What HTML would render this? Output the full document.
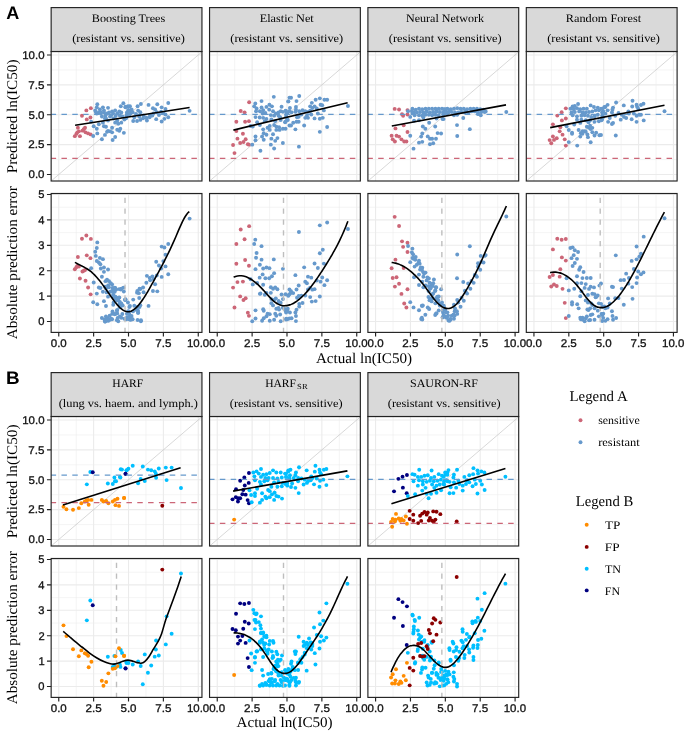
<!DOCTYPE html><html><head><meta charset="utf-8"><style>html,body{margin:0;padding:0;background:#fff;width:685px;height:731px;overflow:hidden}svg{display:block;will-change:transform;text-rendering:geometricPrecision}</style></head><body><svg width="685" height="731" viewBox="0 0 685 731">
<rect width="685" height="731" fill="#fff"/>
<rect x="51.15" y="51.5" width="150.8" height="129.5" fill="#fff"/>
<path d="M51.15 159.56H201.95 M51.15 129.69H201.95 M51.15 99.81H201.95 M51.15 69.94H201.95 M76.2 51.5V181 M111.07 51.5V181 M145.95 51.5V181 M180.82 51.5V181" stroke="#EBEBEB" stroke-width="0.55" fill="none"/>
<path d="M51.15 174.5H201.95 M51.15 144.62H201.95 M51.15 114.75H201.95 M51.15 84.88H201.95 M51.15 55H201.95 M58.76 51.5V181 M93.63 51.5V181 M128.51 51.5V181 M163.38 51.5V181 M198.26 51.5V181" stroke="#EBEBEB" stroke-width="1.1" fill="none"/>
<defs><clipPath id="cA01"><rect x="51.15" y="51.5" width="150.8" height="129.5"/></clipPath></defs>
<g clip-path="url(#cA01)">
<path d="M51.15 181.02L201.95 51.84" stroke="#BEBEBE" stroke-width="0.6" fill="none"/>
<g fill="#CC6677"><circle cx="90.86" cy="108.15" r="1.95"/><circle cx="86.36" cy="110.39" r="1.95"/><circle cx="81.97" cy="115.71" r="1.95"/><circle cx="86.77" cy="119.39" r="1.95"/><circle cx="90.45" cy="117.55" r="1.95"/><circle cx="77.88" cy="127.77" r="1.95"/><circle cx="85.04" cy="127.77" r="1.95"/><circle cx="78.9" cy="131.34" r="1.95"/><circle cx="82.48" cy="130.63" r="1.95"/><circle cx="76.35" cy="133.9" r="1.95"/><circle cx="74.82" cy="136.14" r="1.95"/><circle cx="79.93" cy="136.14" r="1.95"/><circle cx="85.55" cy="132.36" r="1.95"/><circle cx="88.1" cy="133.39" r="1.95"/><circle cx="90.66" cy="134.41" r="1.95"/><circle cx="77.37" cy="132.36" r="1.95"/><circle cx="83.71" cy="129.3" r="1.95"/></g>
<g fill="#6699CC"><circle cx="97.3" cy="104.26" r="1.95"/><circle cx="95.25" cy="110.39" r="1.95"/><circle cx="96.79" cy="107.33" r="1.95"/><circle cx="98.83" cy="112.44" r="1.95"/><circle cx="102.92" cy="107.33" r="1.95"/><circle cx="108.03" cy="107.84" r="1.95"/><circle cx="100.87" cy="113.46" r="1.95"/><circle cx="103.94" cy="112.44" r="1.95"/><circle cx="105.47" cy="115.5" r="1.95"/><circle cx="105.98" cy="118.57" r="1.95"/><circle cx="109.05" cy="112.44" r="1.95"/><circle cx="112.12" cy="111.42" r="1.95"/><circle cx="115.18" cy="110.39" r="1.95"/><circle cx="117.22" cy="113.46" r="1.95"/><circle cx="119.27" cy="111.42" r="1.95"/><circle cx="121.31" cy="112.44" r="1.95"/><circle cx="123.36" cy="103.24" r="1.95"/><circle cx="120.8" cy="106.31" r="1.95"/><circle cx="125.4" cy="107.33" r="1.95"/><circle cx="127.95" cy="106.31" r="1.95"/><circle cx="128.47" cy="110.39" r="1.95"/><circle cx="126.42" cy="115.5" r="1.95"/><circle cx="124.38" cy="119.59" r="1.95"/><circle cx="117.22" cy="120.61" r="1.95"/><circle cx="115.18" cy="122.66" r="1.95"/><circle cx="118.25" cy="123.68" r="1.95"/><circle cx="121.31" cy="122.66" r="1.95"/><circle cx="113.65" cy="118.57" r="1.95"/><circle cx="110.07" cy="116.52" r="1.95"/><circle cx="101.9" cy="116.52" r="1.95"/><circle cx="96.79" cy="113.46" r="1.95"/><circle cx="91.17" cy="121.63" r="1.95"/><circle cx="93.72" cy="126.23" r="1.95"/><circle cx="98.83" cy="124.19" r="1.95"/><circle cx="102.92" cy="122.66" r="1.95"/><circle cx="103.94" cy="126.23" r="1.95"/><circle cx="105.98" cy="126.74" r="1.95"/><circle cx="96.79" cy="128.79" r="1.95"/><circle cx="97.3" cy="133.39" r="1.95"/><circle cx="93.21" cy="135.94" r="1.95"/><circle cx="101.9" cy="139.21" r="1.95"/><circle cx="104.96" cy="134.92" r="1.95"/><circle cx="107.01" cy="131.85" r="1.95"/><circle cx="110.07" cy="131.34" r="1.95"/><circle cx="112.12" cy="127.77" r="1.95"/><circle cx="112.12" cy="132.36" r="1.95"/><circle cx="115.18" cy="136.96" r="1.95"/><circle cx="112.63" cy="140.03" r="1.95"/><circle cx="117.22" cy="129.81" r="1.95"/><circle cx="120.29" cy="128.79" r="1.95"/><circle cx="119.27" cy="130.83" r="1.95"/><circle cx="123.87" cy="132.87" r="1.95"/><circle cx="108.03" cy="130.83" r="1.95"/><circle cx="103.94" cy="110.39" r="1.95"/><circle cx="99.85" cy="109.37" r="1.95"/><circle cx="111.09" cy="115.5" r="1.95"/><circle cx="95.77" cy="111.93" r="1.95"/><circle cx="100.36" cy="111.93" r="1.95"/><circle cx="107.01" cy="113.46" r="1.95"/><circle cx="113.14" cy="113.46" r="1.95"/><circle cx="115.69" cy="116.01" r="1.95"/><circle cx="122.33" cy="116.52" r="1.95"/><circle cx="119.78" cy="115.5" r="1.95"/><circle cx="126.93" cy="112.44" r="1.95"/><circle cx="104.96" cy="118.57" r="1.95"/><circle cx="108.03" cy="120.61" r="1.95"/><circle cx="125.55" cy="106.78" r="1.95"/><circle cx="129.93" cy="106.23" r="1.95"/><circle cx="137.59" cy="106.23" r="1.95"/><circle cx="140.88" cy="104.04" r="1.95"/><circle cx="148.54" cy="104.92" r="1.95"/><circle cx="157.3" cy="104.26" r="1.95"/><circle cx="168.25" cy="102.95" r="1.95"/><circle cx="152.92" cy="108.2" r="1.95"/><circle cx="155.11" cy="109.52" r="1.95"/><circle cx="161.68" cy="107.33" r="1.95"/><circle cx="165.51" cy="108.97" r="1.95"/><circle cx="189.6" cy="110.83" r="1.95"/><circle cx="128.28" cy="110.07" r="1.95"/><circle cx="131.57" cy="109.52" r="1.95"/><circle cx="132.66" cy="112.26" r="1.95"/><circle cx="138.14" cy="110.61" r="1.95"/><circle cx="140.33" cy="112.26" r="1.95"/><circle cx="135.95" cy="113.9" r="1.95"/><circle cx="127.19" cy="113.9" r="1.95"/><circle cx="129.38" cy="114.99" r="1.95"/><circle cx="126.09" cy="118.28" r="1.95"/><circle cx="133.21" cy="121.02" r="1.95"/><circle cx="137.04" cy="121.02" r="1.95"/><circle cx="140.33" cy="119.92" r="1.95"/><circle cx="143.07" cy="118.28" r="1.95"/><circle cx="146.9" cy="120.47" r="1.95"/><circle cx="146.35" cy="117.73" r="1.95"/><circle cx="149.64" cy="117.18" r="1.95"/><circle cx="152.37" cy="115.54" r="1.95"/><circle cx="153.47" cy="113.35" r="1.95"/><circle cx="156.75" cy="112.26" r="1.95"/><circle cx="158.94" cy="114.99" r="1.95"/><circle cx="161.13" cy="111.71" r="1.95"/><circle cx="163.32" cy="113.35" r="1.95"/><circle cx="165.51" cy="114.45" r="1.95"/><circle cx="168.25" cy="117.18" r="1.95"/><circle cx="164.42" cy="118.83" r="1.95"/><circle cx="161.68" cy="121.56" r="1.95"/><circle cx="156.21" cy="119.15" r="1.95"/><circle cx="150.18" cy="115.54" r="1.95"/><circle cx="143.61" cy="115.54" r="1.95"/><circle cx="139.23" cy="116.64" r="1.95"/><circle cx="134.31" cy="117.18" r="1.95"/><circle cx="130.47" cy="112.26" r="1.95"/></g>
<path d="M51.15 114.3H201.95" stroke="#6699CC" stroke-width="1.25" stroke-dasharray="5.5 5.33" stroke-dashoffset="0.53" fill="none"/>
<path d="M51.15 158.35H201.95" stroke="#CC6677" stroke-width="1.25" stroke-dasharray="5.5 5.33" stroke-dashoffset="0.53" fill="none"/>
<path d="M75.1 125.2L189.6 107.5" stroke="#000" stroke-width="1.6" fill="none"/>
</g>
<rect x="51.15" y="51.5" width="150.8" height="129.5" fill="none" stroke="#222" stroke-width="1.15"/>
<rect x="51.15" y="193.5" width="150.8" height="138.9" fill="#fff"/>
<path d="M51.15 308.8H201.95 M51.15 283.4H201.95 M51.15 258H201.95 M51.15 232.6H201.95 M51.15 207.2H201.95 M76.2 193.5V332.4 M111.07 193.5V332.4 M145.95 193.5V332.4 M180.82 193.5V332.4" stroke="#EBEBEB" stroke-width="0.55" fill="none"/>
<path d="M51.15 321.5H201.95 M51.15 296.1H201.95 M51.15 270.7H201.95 M51.15 245.3H201.95 M51.15 219.9H201.95 M51.15 194.5H201.95 M58.76 193.5V332.4 M93.63 193.5V332.4 M128.51 193.5V332.4 M163.38 193.5V332.4 M198.26 193.5V332.4" stroke="#EBEBEB" stroke-width="1.1" fill="none"/>
<defs><clipPath id="cA02"><rect x="51.15" y="193.5" width="150.8" height="138.9"/></clipPath></defs>
<g clip-path="url(#cA02)">
<g fill="#CC6677"><circle cx="90.86" cy="238.91" r="1.95"/><circle cx="86.36" cy="235.5" r="1.95"/><circle cx="81.97" cy="238.8" r="1.95"/><circle cx="86.77" cy="255.36" r="1.95"/><circle cx="90.45" cy="258.15" r="1.95"/><circle cx="77.88" cy="256.98" r="1.95"/><circle cx="85.04" cy="270.01" r="1.95"/><circle cx="78.9" cy="266.45" r="1.95"/><circle cx="82.48" cy="271.44" r="1.95"/><circle cx="76.35" cy="267.22" r="1.95"/><circle cx="74.82" cy="269.21" r="1.95"/><circle cx="79.93" cy="278.51" r="1.95"/><circle cx="85.55" cy="280.71" r="1.95"/><circle cx="88.1" cy="287.53" r="1.95"/><circle cx="90.66" cy="294.36" r="1.95"/><circle cx="77.37" cy="265.83" r="1.95"/><circle cx="83.71" cy="270.85" r="1.95"/></g>
<g fill="#6699CC"><circle cx="97.3" cy="242.38" r="1.95"/><circle cx="95.25" cy="251.69" r="1.95"/><circle cx="96.79" cy="247.96" r="1.95"/><circle cx="98.83" cy="262.55" r="1.95"/><circle cx="102.92" cy="259.13" r="1.95"/><circle cx="108.03" cy="269.52" r="1.95"/><circle cx="100.87" cy="268.44" r="1.95"/><circle cx="103.94" cy="271.85" r="1.95"/><circle cx="105.47" cy="281.16" r="1.95"/><circle cx="105.98" cy="288.6" r="1.95"/><circle cx="109.05" cy="281.15" r="1.95"/><circle cx="112.12" cy="284.56" r="1.95"/><circle cx="115.18" cy="287.97" r="1.95"/><circle cx="117.22" cy="298.21" r="1.95"/><circle cx="119.27" cy="297.59" r="1.95"/><circle cx="121.31" cy="303.48" r="1.95"/><circle cx="123.36" cy="287.65" r="1.95"/><circle cx="120.8" cy="289.52" r="1.95"/><circle cx="125.4" cy="300.06" r="1.95"/><circle cx="127.95" cy="302.54" r="1.95"/><circle cx="128.47" cy="312.16" r="1.95"/><circle cx="126.42" cy="319.3" r="1.95"/><circle cx="124.38" cy="318.74" r="1.95"/><circle cx="117.22" cy="313.41" r="1.95"/><circle cx="115.18" cy="314.03" r="1.95"/><circle cx="118.25" cy="321.21" r="1.95"/><circle cx="121.31" cy="317.8" r="1.95"/><circle cx="113.65" cy="302.56" r="1.95"/><circle cx="110.07" cy="291.7" r="1.95"/><circle cx="101.9" cy="276.82" r="1.95"/><circle cx="96.79" cy="261" r="1.95"/><circle cx="91.17" cy="268.14" r="1.95"/><circle cx="93.72" cy="282.56" r="1.95"/><circle cx="98.83" cy="287.52" r="1.95"/><circle cx="102.92" cy="291.71" r="1.95"/><circle cx="103.94" cy="301.17" r="1.95"/><circle cx="105.98" cy="305.98" r="1.95"/><circle cx="96.79" cy="293.58" r="1.95"/><circle cx="97.3" cy="304.28" r="1.95"/><circle cx="93.21" cy="302.27" r="1.95"/><circle cx="101.9" cy="317.97" r="1.95"/><circle cx="104.96" cy="321.49" r="1.95"/><circle cx="107.01" cy="318.7" r="1.95"/><circle cx="110.07" cy="319.81" r="1.95"/><circle cx="112.12" cy="319.31" r="1.95"/><circle cx="112.12" cy="313.91" r="1.95"/><circle cx="115.18" cy="298.56" r="1.95"/><circle cx="112.63" cy="296.69" r="1.95"/><circle cx="117.22" cy="310.04" r="1.95"/><circle cx="120.29" cy="306.63" r="1.95"/><circle cx="119.27" cy="304.15" r="1.95"/><circle cx="123.87" cy="291.43" r="1.95"/><circle cx="108.03" cy="318.39" r="1.95"/><circle cx="103.94" cy="267.5" r="1.95"/><circle cx="99.85" cy="257.89" r="1.95"/><circle cx="111.09" cy="291.39" r="1.95"/><circle cx="95.77" cy="255.88" r="1.95"/><circle cx="100.36" cy="264.25" r="1.95"/><circle cx="107.01" cy="279.6" r="1.95"/><circle cx="113.14" cy="290.77" r="1.95"/><circle cx="115.69" cy="300.85" r="1.95"/><circle cx="122.33" cy="314.03" r="1.95"/><circle cx="119.78" cy="307.2" r="1.95"/><circle cx="126.93" cy="313.71" r="1.95"/><circle cx="104.96" cy="286.74" r="1.95"/><circle cx="108.03" cy="296.67" r="1.95"/><circle cx="125.55" cy="299.17" r="1.95"/><circle cx="129.93" cy="305.98" r="1.95"/><circle cx="137.59" cy="319.94" r="1.95"/><circle cx="140.88" cy="321.26" r="1.95"/><circle cx="148.54" cy="305.92" r="1.95"/><circle cx="157.3" cy="291.37" r="1.95"/><circle cx="168.25" cy="274.22" r="1.95"/><circle cx="152.92" cy="290.96" r="1.95"/><circle cx="155.11" cy="284.18" r="1.95"/><circle cx="161.68" cy="276.88" r="1.95"/><circle cx="165.51" cy="266.41" r="1.95"/><circle cx="189.6" cy="218.59" r="1.95"/><circle cx="128.28" cy="311.13" r="1.95"/><circle cx="131.57" cy="315.95" r="1.95"/><circle cx="132.66" cy="319.24" r="1.95"/><circle cx="138.14" cy="312.76" r="1.95"/><circle cx="140.33" cy="305.28" r="1.95"/><circle cx="135.95" cy="309.76" r="1.95"/><circle cx="127.19" cy="317.29" r="1.95"/><circle cx="129.38" cy="319.4" r="1.95"/><circle cx="126.09" cy="318.4" r="1.95"/><circle cx="133.21" cy="299.62" r="1.95"/><circle cx="137.04" cy="292.64" r="1.95"/><circle cx="140.33" cy="288.99" r="1.95"/><circle cx="143.07" cy="287.5" r="1.95"/><circle cx="146.9" cy="275.86" r="1.95"/><circle cx="146.35" cy="282.68" r="1.95"/><circle cx="149.64" cy="277.86" r="1.95"/><circle cx="152.37" cy="276.37" r="1.95"/><circle cx="153.47" cy="279.03" r="1.95"/><circle cx="156.75" cy="275.38" r="1.95"/><circle cx="158.94" cy="265.57" r="1.95"/><circle cx="161.13" cy="268.57" r="1.95"/><circle cx="163.32" cy="261.09" r="1.95"/><circle cx="165.51" cy="254.77" r="1.95"/><circle cx="168.25" cy="243.97" r="1.95"/><circle cx="164.42" cy="247.46" r="1.95"/><circle cx="161.68" cy="246.62" r="1.95"/><circle cx="156.21" cy="261.71" r="1.95"/><circle cx="150.18" cy="280.36" r="1.95"/><circle cx="143.61" cy="292.32" r="1.95"/><circle cx="139.23" cy="297.97" r="1.95"/><circle cx="134.31" cy="305.77" r="1.95"/><circle cx="130.47" cy="319.78" r="1.95"/><circle cx="100.47" cy="288.03" r="1.95"/><circle cx="108.14" cy="285.47" r="1.95"/><circle cx="110.69" cy="283.28" r="1.95"/><circle cx="108.87" cy="287.3" r="1.95"/><circle cx="112.52" cy="288.03" r="1.95"/><circle cx="114.71" cy="287.66" r="1.95"/><circle cx="116.17" cy="289.49" r="1.95"/><circle cx="114.71" cy="291.68" r="1.95"/><circle cx="112.52" cy="290.95" r="1.95"/><circle cx="106.68" cy="292.41" r="1.95"/><circle cx="113.25" cy="294.6" r="1.95"/><circle cx="115.44" cy="296.79" r="1.95"/><circle cx="116.9" cy="298.25" r="1.95"/><circle cx="119.09" cy="297.52" r="1.95"/><circle cx="118.36" cy="300.44" r="1.95"/><circle cx="119.82" cy="301.9" r="1.95"/><circle cx="121.28" cy="304.09" r="1.95"/><circle cx="122.74" cy="305.55" r="1.95"/><circle cx="113.25" cy="304.82" r="1.95"/><circle cx="119.09" cy="289.12" r="1.95"/><circle cx="121.28" cy="288.76" r="1.95"/><circle cx="124.93" cy="299.71" r="1.95"/><circle cx="129.31" cy="307.01" r="1.95"/><circle cx="137.34" cy="307.01" r="1.95"/><circle cx="139.53" cy="307.01" r="1.95"/><circle cx="138.07" cy="310.66" r="1.95"/><circle cx="138.07" cy="312.85" r="1.95"/><circle cx="127.85" cy="312.85" r="1.95"/><circle cx="129.31" cy="314.31" r="1.95"/><circle cx="130.77" cy="316.5" r="1.95"/><circle cx="128.58" cy="317.96" r="1.95"/><circle cx="131.5" cy="319.42" r="1.95"/><circle cx="132.96" cy="311.39" r="1.95"/><circle cx="112.52" cy="311.39" r="1.95"/><circle cx="116.9" cy="310.66" r="1.95"/><circle cx="114.71" cy="314.31" r="1.95"/><circle cx="105.95" cy="316.5" r="1.95"/><circle cx="104.49" cy="319.42" r="1.95"/><circle cx="109.6" cy="315.77" r="1.95"/><circle cx="111.06" cy="318.69" r="1.95"/><circle cx="108.14" cy="320.88" r="1.95"/><circle cx="105.22" cy="321.61" r="1.95"/><circle cx="117.63" cy="317.96" r="1.95"/><circle cx="119.82" cy="316.5" r="1.95"/><circle cx="116.9" cy="320.15" r="1.95"/><circle cx="140.99" cy="320.15" r="1.95"/><circle cx="137.34" cy="290.95" r="1.95"/><circle cx="139.53" cy="288.76" r="1.95"/><circle cx="138.8" cy="293.14" r="1.95"/></g>
<path d="M125.02 332.4V193.5" stroke="#BEBEBE" stroke-width="1.4" stroke-dasharray="5.3 5.53" stroke-dashoffset="0.6" fill="none"/>
<path d="M74.9 262.4C75.22 262.58 76.19 263.12 76.84 263.46C77.49 263.8 78.13 264.12 78.78 264.45C79.42 264.77 80.07 265.08 80.72 265.4C81.36 265.73 82.01 266.04 82.66 266.37C83.3 266.71 83.95 267.04 84.59 267.39C85.24 267.75 85.89 268.11 86.53 268.51C87.18 268.9 87.83 269.3 88.47 269.75C89.12 270.19 89.77 270.65 90.41 271.16C91.06 271.67 91.7 272.2 92.35 272.78C93 273.36 93.64 273.98 94.29 274.64C94.94 275.29 95.58 275.98 96.23 276.7C96.88 277.42 97.52 278.17 98.17 278.95C98.81 279.72 99.46 280.53 100.11 281.35C100.75 282.17 101.4 283.02 102.05 283.88C102.69 284.74 103.34 285.62 103.98 286.52C104.63 287.41 105.28 288.32 105.92 289.23C106.57 290.14 107.22 291.07 107.86 291.99C108.51 292.92 109.16 293.86 109.8 294.78C110.45 295.71 111.09 296.64 111.74 297.55C112.39 298.46 113.03 299.36 113.68 300.23C114.33 301.1 114.97 301.96 115.62 302.77C116.26 303.59 116.91 304.38 117.56 305.12C118.2 305.86 118.85 306.56 119.5 307.2C120.14 307.84 120.79 308.44 121.44 308.97C122.08 309.49 122.73 309.96 123.37 310.35C124.02 310.74 124.67 311.07 125.31 311.3C125.96 311.53 126.61 311.69 127.25 311.75C127.9 311.82 128.55 311.79 129.19 311.69C129.84 311.58 130.48 311.4 131.13 311.14C131.78 310.88 132.42 310.54 133.07 310.13C133.72 309.73 134.36 309.25 135.01 308.71C135.65 308.18 136.3 307.57 136.95 306.91C137.59 306.25 138.24 305.53 138.89 304.76C139.53 303.99 140.18 303.16 140.83 302.29C141.47 301.42 142.12 300.5 142.76 299.55C143.41 298.6 144.06 297.6 144.7 296.58C145.35 295.56 146 294.5 146.64 293.42C147.29 292.34 147.94 291.23 148.58 290.1C149.23 288.98 149.87 287.83 150.52 286.68C151.17 285.53 151.81 284.36 152.46 283.19C153.11 282.02 153.75 280.85 154.4 279.67C155.04 278.5 155.69 277.32 156.34 276.14C156.98 274.95 157.63 273.76 158.28 272.57C158.92 271.37 159.57 270.17 160.22 268.95C160.86 267.74 161.51 266.52 162.15 265.28C162.8 264.05 163.45 262.8 164.09 261.54C164.74 260.28 165.39 259.01 166.03 257.72C166.68 256.44 167.32 255.13 167.97 253.81C168.62 252.49 169.26 251.15 169.91 249.79C170.56 248.43 171.2 247.05 171.85 245.65C172.5 244.25 173.14 242.83 173.79 241.38C174.43 239.93 175.08 238.45 175.73 236.96C176.37 235.47 177.02 233.94 177.67 232.44C178.31 230.93 178.96 229.41 179.61 227.94C180.25 226.48 180.9 225.02 181.54 223.64C182.19 222.27 182.84 220.93 183.48 219.7C184.13 218.46 184.78 217.29 185.42 216.26C186.07 215.22 186.71 214.28 187.36 213.49C188.01 212.71 188.98 211.88 189.3 211.56" stroke="#000" stroke-width="1.6" fill="none" stroke-linejoin="round"/>
</g>
<rect x="51.15" y="193.5" width="150.8" height="138.9" fill="none" stroke="#222" stroke-width="1.15"/>
<rect x="51.15" y="7.6" width="150.8" height="43.9" fill="#D9D9D9" stroke="#222" stroke-width="1.15"/>
<text x="91.76" y="22.10" font-family='"Liberation Serif",serif' font-size="11.4" fill="#000" textLength="73.49" lengthAdjust="spacingAndGlyphs">Boosting Trees</text>
<text x="72.18" y="42.00" font-family='"Liberation Serif",serif' font-size="11.4" fill="#000" textLength="112.65" lengthAdjust="spacingAndGlyphs">(resistant vs. sensitive)</text>
<text x="50.75" y="346.80" font-family='"Liberation Sans",sans-serif' font-size="11.2" fill="#111" textLength="16.02" lengthAdjust="spacingAndGlyphs" stroke="#111" stroke-width="0.3">0.0</text>
<text x="85.48" y="346.80" font-family='"Liberation Sans",sans-serif' font-size="11.2" fill="#111" textLength="16.20" lengthAdjust="spacingAndGlyphs" stroke="#111" stroke-width="0.3">2.5</text>
<text x="120.47" y="346.80" font-family='"Liberation Sans",sans-serif' font-size="11.2" fill="#111" textLength="16.05" lengthAdjust="spacingAndGlyphs" stroke="#111" stroke-width="0.3">5.0</text>
<text x="155.23" y="346.80" font-family='"Liberation Sans",sans-serif' font-size="11.2" fill="#111" textLength="16.20" lengthAdjust="spacingAndGlyphs" stroke="#111" stroke-width="0.3">7.5</text>
<text x="186.90" y="346.80" font-family='"Liberation Sans",sans-serif' font-size="11.2" fill="#111" textLength="22.30" lengthAdjust="spacingAndGlyphs" stroke="#111" stroke-width="0.3">10.0</text>
<path d="M58.76 332.4v4.1 M93.63 332.4v4.1 M128.51 332.4v4.1 M163.38 332.4v4.1 M198.26 332.4v4.1" stroke="#222" stroke-width="1.15"/>
<text x="28.52" y="178.35" font-family='"Liberation Sans",sans-serif' font-size="11.2" fill="#111" textLength="16.02" lengthAdjust="spacingAndGlyphs" stroke="#111" stroke-width="0.3">0.0</text>
<text x="28.37" y="148.47" font-family='"Liberation Sans",sans-serif' font-size="11.2" fill="#111" textLength="16.20" lengthAdjust="spacingAndGlyphs" stroke="#111" stroke-width="0.3">2.5</text>
<text x="28.49" y="118.60" font-family='"Liberation Sans",sans-serif' font-size="11.2" fill="#111" textLength="16.05" lengthAdjust="spacingAndGlyphs" stroke="#111" stroke-width="0.3">5.0</text>
<text x="28.37" y="88.72" font-family='"Liberation Sans",sans-serif' font-size="11.2" fill="#111" textLength="16.20" lengthAdjust="spacingAndGlyphs" stroke="#111" stroke-width="0.3">7.5</text>
<text x="22.24" y="58.85" font-family='"Liberation Sans",sans-serif' font-size="11.2" fill="#111" textLength="22.30" lengthAdjust="spacingAndGlyphs" stroke="#111" stroke-width="0.3">10.0</text>
<text x="38.30" y="325.35" font-family='"Liberation Sans",sans-serif' font-size="11.2" fill="#111" textLength="6.23" lengthAdjust="spacingAndGlyphs" stroke="#111" stroke-width="0.3">0</text>
<text x="38.42" y="299.95" font-family='"Liberation Sans",sans-serif' font-size="11.2" fill="#111" textLength="6.23" lengthAdjust="spacingAndGlyphs" stroke="#111" stroke-width="0.3">1</text>
<text x="38.42" y="274.55" font-family='"Liberation Sans",sans-serif' font-size="11.2" fill="#111" textLength="6.23" lengthAdjust="spacingAndGlyphs" stroke="#111" stroke-width="0.3">2</text>
<text x="38.36" y="249.15" font-family='"Liberation Sans",sans-serif' font-size="11.2" fill="#111" textLength="6.23" lengthAdjust="spacingAndGlyphs" stroke="#111" stroke-width="0.3">3</text>
<text x="38.19" y="223.75" font-family='"Liberation Sans",sans-serif' font-size="11.2" fill="#111" textLength="6.23" lengthAdjust="spacingAndGlyphs" stroke="#111" stroke-width="0.3">4</text>
<text x="38.33" y="198.35" font-family='"Liberation Sans",sans-serif' font-size="11.2" fill="#111" textLength="6.23" lengthAdjust="spacingAndGlyphs" stroke="#111" stroke-width="0.3">5</text>
<path d="M46.95 174.5h4.2 M46.95 144.62h4.2 M46.95 114.75h4.2 M46.95 84.88h4.2 M46.95 55h4.2 M46.95 321.5h4.2 M46.95 296.1h4.2 M46.95 270.7h4.2 M46.95 245.3h4.2 M46.95 219.9h4.2 M46.95 194.5h4.2" stroke="#222" stroke-width="1.15"/>
<rect x="209.55" y="51.5" width="150.8" height="129.5" fill="#fff"/>
<path d="M209.55 159.56H360.35 M209.55 129.69H360.35 M209.55 99.81H360.35 M209.55 69.94H360.35 M234.68 51.5V181 M269.55 51.5V181 M304.43 51.5V181 M339.3 51.5V181" stroke="#EBEBEB" stroke-width="0.55" fill="none"/>
<path d="M209.55 174.5H360.35 M209.55 144.62H360.35 M209.55 114.75H360.35 M209.55 84.88H360.35 M209.55 55H360.35 M217.24 51.5V181 M252.12 51.5V181 M286.99 51.5V181 M321.87 51.5V181 M356.74 51.5V181" stroke="#EBEBEB" stroke-width="1.1" fill="none"/>
<defs><clipPath id="cA11"><rect x="209.55" y="51.5" width="150.8" height="129.5"/></clipPath></defs>
<g clip-path="url(#cA11)">
<path d="M209.55 181.09L360.35 51.91" stroke="#BEBEBE" stroke-width="0.6" fill="none"/>
<g fill="#CC6677"><circle cx="249.16" cy="102.3" r="1.95"/><circle cx="240.73" cy="111.06" r="1.95"/><circle cx="244.56" cy="112.37" r="1.95"/><circle cx="236.35" cy="121.68" r="1.95"/><circle cx="245.11" cy="121.68" r="1.95"/><circle cx="248.94" cy="121.13" r="1.95"/><circle cx="236.35" cy="130.99" r="1.95"/><circle cx="242.92" cy="133.72" r="1.95"/><circle cx="237.45" cy="138.65" r="1.95"/><circle cx="245.66" cy="139.2" r="1.95"/><circle cx="240.18" cy="143.03" r="1.95"/><circle cx="243.47" cy="141.94" r="1.95"/><circle cx="247.85" cy="144.13" r="1.95"/><circle cx="233.07" cy="145" r="1.95"/><circle cx="234.49" cy="153.1" r="1.95"/><circle cx="248.94" cy="144.67" r="1.95"/></g>
<g fill="#6699CC"><circle cx="273.8" cy="96.83" r="1.95"/><circle cx="261.53" cy="101.1" r="1.95"/><circle cx="255.29" cy="103.39" r="1.95"/><circle cx="254.2" cy="106.35" r="1.95"/><circle cx="256.61" cy="108.54" r="1.95"/><circle cx="261.53" cy="107.45" r="1.95"/><circle cx="266.46" cy="106.9" r="1.95"/><circle cx="269.42" cy="104.71" r="1.95"/><circle cx="271.94" cy="106.35" r="1.95"/><circle cx="281.57" cy="106.68" r="1.95"/><circle cx="288.36" cy="101.42" r="1.95"/><circle cx="289.46" cy="97.59" r="1.95"/><circle cx="256.06" cy="111.28" r="1.95"/><circle cx="259.89" cy="111.28" r="1.95"/><circle cx="263.18" cy="110.18" r="1.95"/><circle cx="262.63" cy="113.47" r="1.95"/><circle cx="265.37" cy="112.92" r="1.95"/><circle cx="269.2" cy="109.64" r="1.95"/><circle cx="273.03" cy="111.28" r="1.95"/><circle cx="275.77" cy="113.47" r="1.95"/><circle cx="278.51" cy="112.37" r="1.95"/><circle cx="280.7" cy="111.28" r="1.95"/><circle cx="282.89" cy="111.83" r="1.95"/><circle cx="285.62" cy="110.73" r="1.95"/><circle cx="287.27" cy="113.47" r="1.95"/><circle cx="278.51" cy="115.66" r="1.95"/><circle cx="274.13" cy="115.66" r="1.95"/><circle cx="270.84" cy="115.11" r="1.95"/><circle cx="255.51" cy="117.08" r="1.95"/><circle cx="259.67" cy="117.52" r="1.95"/><circle cx="263.18" cy="117.85" r="1.95"/><circle cx="266.46" cy="118.94" r="1.95"/><circle cx="271.39" cy="119.49" r="1.95"/><circle cx="275.22" cy="121.13" r="1.95"/><circle cx="280.7" cy="120.04" r="1.95"/><circle cx="285.08" cy="122.23" r="1.95"/><circle cx="287.81" cy="120.04" r="1.95"/><circle cx="289.46" cy="125.51" r="1.95"/><circle cx="257.15" cy="122.23" r="1.95"/><circle cx="259.89" cy="124.96" r="1.95"/><circle cx="250.59" cy="126.06" r="1.95"/><circle cx="252.78" cy="126.61" r="1.95"/><circle cx="269.75" cy="126.06" r="1.95"/><circle cx="274.13" cy="124.96" r="1.95"/><circle cx="276.32" cy="126.61" r="1.95"/><circle cx="279.05" cy="127.15" r="1.95"/><circle cx="282.89" cy="128.8" r="1.95"/><circle cx="276.32" cy="129.89" r="1.95"/><circle cx="279.6" cy="129.89" r="1.95"/><circle cx="263.18" cy="129.34" r="1.95"/><circle cx="269.75" cy="129.89" r="1.95"/><circle cx="263.72" cy="133.18" r="1.95"/><circle cx="266.46" cy="134.82" r="1.95"/><circle cx="273.03" cy="134.27" r="1.95"/><circle cx="255.51" cy="136.46" r="1.95"/><circle cx="262.08" cy="136.46" r="1.95"/><circle cx="255.51" cy="140.29" r="1.95"/><circle cx="263.72" cy="139.75" r="1.95"/><circle cx="271.39" cy="138.65" r="1.95"/><circle cx="277.41" cy="138.1" r="1.95"/><circle cx="275.22" cy="140.84" r="1.95"/><circle cx="282.89" cy="143.03" r="1.95"/><circle cx="270.84" cy="144.67" r="1.95"/><circle cx="252.23" cy="144.67" r="1.95"/><circle cx="274.13" cy="148.51" r="1.95"/><circle cx="260.44" cy="150.7" r="1.95"/><circle cx="267.56" cy="127.7" r="1.95"/><circle cx="264.82" cy="121.13" r="1.95"/><circle cx="280.15" cy="117.3" r="1.95"/><circle cx="286.17" cy="116.75" r="1.95"/><circle cx="299.23" cy="95.95" r="1.95"/><circle cx="291.02" cy="97.81" r="1.95"/><circle cx="288.28" cy="101.42" r="1.95"/><circle cx="296.5" cy="101.1" r="1.95"/><circle cx="315.66" cy="99.78" r="1.95"/><circle cx="319.82" cy="98.36" r="1.95"/><circle cx="324.42" cy="99.78" r="1.95"/><circle cx="327.15" cy="99.78" r="1.95"/><circle cx="311.83" cy="102.85" r="1.95"/><circle cx="320.59" cy="104.71" r="1.95"/><circle cx="322.23" cy="105.26" r="1.95"/><circle cx="347.96" cy="106.02" r="1.95"/><circle cx="289.93" cy="107.99" r="1.95"/><circle cx="295.95" cy="106.9" r="1.95"/><circle cx="295.95" cy="109.64" r="1.95"/><circle cx="286.09" cy="111.28" r="1.95"/><circle cx="289.38" cy="111.28" r="1.95"/><circle cx="291.57" cy="112.37" r="1.95"/><circle cx="295.4" cy="111.83" r="1.95"/><circle cx="299.23" cy="111.28" r="1.95"/><circle cx="302.52" cy="110.18" r="1.95"/><circle cx="305.26" cy="111.28" r="1.95"/><circle cx="307.99" cy="111.83" r="1.95"/><circle cx="310.18" cy="110.73" r="1.95"/><circle cx="312.37" cy="107.99" r="1.95"/><circle cx="314.56" cy="106.35" r="1.95"/><circle cx="316.75" cy="108.54" r="1.95"/><circle cx="323.87" cy="110.4" r="1.95"/><circle cx="317.85" cy="113.47" r="1.95"/><circle cx="311.28" cy="114.56" r="1.95"/><circle cx="306.9" cy="115.66" r="1.95"/><circle cx="305.26" cy="117.85" r="1.95"/><circle cx="297.04" cy="117.3" r="1.95"/><circle cx="298.69" cy="116.75" r="1.95"/><circle cx="286.09" cy="114.56" r="1.95"/><circle cx="287.19" cy="119.49" r="1.95"/><circle cx="285.55" cy="121.68" r="1.95"/><circle cx="293.21" cy="122.78" r="1.95"/><circle cx="296.5" cy="121.68" r="1.95"/><circle cx="298.69" cy="121.68" r="1.95"/><circle cx="291.02" cy="125.51" r="1.95"/><circle cx="304.16" cy="125.51" r="1.95"/><circle cx="295.4" cy="129.34" r="1.95"/><circle cx="314.56" cy="118.4" r="1.95"/><circle cx="319.82" cy="118.72" r="1.95"/><circle cx="322.78" cy="117.85" r="1.95"/><circle cx="327.15" cy="126.94" r="1.95"/><circle cx="319.82" cy="131.86" r="1.95"/><circle cx="298.91" cy="146.64" r="1.95"/><circle cx="310.18" cy="106.35" r="1.95"/><circle cx="301.42" cy="114.56" r="1.95"/><circle cx="307.99" cy="117.85" r="1.95"/><circle cx="285.55" cy="128.8" r="1.95"/></g>
<path d="M209.55 114.3H360.35" stroke="#6699CC" stroke-width="1.25" stroke-dasharray="5.5 5.33" stroke-dashoffset="0.53" fill="none"/>
<path d="M209.55 158.35H360.35" stroke="#CC6677" stroke-width="1.25" stroke-dasharray="5.5 5.33" stroke-dashoffset="0.53" fill="none"/>
<path d="M233.4 130.1L347.6 102.8" stroke="#000" stroke-width="1.6" fill="none"/>
</g>
<rect x="209.55" y="51.5" width="150.8" height="129.5" fill="none" stroke="#222" stroke-width="1.15"/>
<rect x="209.55" y="193.5" width="150.8" height="138.9" fill="#fff"/>
<path d="M209.55 308.8H360.35 M209.55 283.4H360.35 M209.55 258H360.35 M209.55 232.6H360.35 M209.55 207.2H360.35 M234.68 193.5V332.4 M269.55 193.5V332.4 M304.43 193.5V332.4 M339.3 193.5V332.4" stroke="#EBEBEB" stroke-width="0.55" fill="none"/>
<path d="M209.55 321.5H360.35 M209.55 296.1H360.35 M209.55 270.7H360.35 M209.55 245.3H360.35 M209.55 219.9H360.35 M209.55 194.5H360.35 M217.24 193.5V332.4 M252.12 193.5V332.4 M286.99 193.5V332.4 M321.87 193.5V332.4 M356.74 193.5V332.4" stroke="#EBEBEB" stroke-width="1.1" fill="none"/>
<defs><clipPath id="cA12"><rect x="209.55" y="193.5" width="150.8" height="138.9"/></clipPath></defs>
<g clip-path="url(#cA12)">
<g fill="#CC6677"><circle cx="249.16" cy="226.16" r="1.95"/><circle cx="240.73" cy="229.43" r="1.95"/><circle cx="244.56" cy="239.2" r="1.95"/><circle cx="236.35" cy="244.03" r="1.95"/><circle cx="245.11" cy="259.98" r="1.95"/><circle cx="248.94" cy="265.79" r="1.95"/><circle cx="236.35" cy="263.81" r="1.95"/><circle cx="242.92" cy="281.59" r="1.95"/><circle cx="237.45" cy="282.09" r="1.95"/><circle cx="245.66" cy="298.21" r="1.95"/><circle cx="240.18" cy="296.39" r="1.95"/><circle cx="243.47" cy="300.04" r="1.95"/><circle cx="247.85" cy="312.67" r="1.95"/><circle cx="233.07" cy="287.62" r="1.95"/><circle cx="234.49" cy="307.43" r="1.95"/><circle cx="248.94" cy="315.83" r="1.95"/></g>
<g fill="#6699CC"><circle cx="273.8" cy="259.38" r="1.95"/><circle cx="261.53" cy="246.13" r="1.95"/><circle cx="255.29" cy="239.65" r="1.95"/><circle cx="254.2" cy="243.94" r="1.95"/><circle cx="256.61" cy="252.98" r="1.95"/><circle cx="261.53" cy="259.63" r="1.95"/><circle cx="266.46" cy="267.43" r="1.95"/><circle cx="269.42" cy="268.16" r="1.95"/><circle cx="271.94" cy="276.24" r="1.95"/><circle cx="281.57" cy="294.48" r="1.95"/><circle cx="288.36" cy="295.67" r="1.95"/><circle cx="289.46" cy="289.52" r="1.95"/><circle cx="256.06" cy="257.8" r="1.95"/><circle cx="259.89" cy="264.78" r="1.95"/><circle cx="263.18" cy="268.44" r="1.95"/><circle cx="262.63" cy="274.42" r="1.95"/><circle cx="265.37" cy="278.24" r="1.95"/><circle cx="269.2" cy="278.24" r="1.95"/><circle cx="273.03" cy="288.71" r="1.95"/><circle cx="275.77" cy="298.34" r="1.95"/><circle cx="278.51" cy="301" r="1.95"/><circle cx="280.7" cy="302.66" r="1.95"/><circle cx="282.89" cy="307.81" r="1.95"/><circle cx="285.62" cy="310.47" r="1.95"/><circle cx="287.27" cy="319.28" r="1.95"/><circle cx="278.51" cy="307.98" r="1.95"/><circle cx="274.13" cy="300.01" r="1.95"/><circle cx="270.84" cy="292.86" r="1.95"/><circle cx="255.51" cy="269.14" r="1.95"/><circle cx="259.67" cy="277.65" r="1.95"/><circle cx="263.18" cy="284.73" r="1.95"/><circle cx="266.46" cy="293.03" r="1.95"/><circle cx="271.39" cy="303.17" r="1.95"/><circle cx="275.22" cy="313.64" r="1.95"/><circle cx="280.7" cy="321.28" r="1.95"/><circle cx="285.08" cy="309.09" r="1.95"/><circle cx="287.81" cy="308.76" r="1.95"/><circle cx="289.46" cy="294.14" r="1.95"/><circle cx="257.15" cy="283.07" r="1.95"/><circle cx="259.89" cy="293.87" r="1.95"/><circle cx="250.59" cy="279.25" r="1.95"/><circle cx="252.78" cy="284.4" r="1.95"/><circle cx="269.75" cy="314.14" r="1.95"/><circle cx="274.13" cy="319.79" r="1.95"/><circle cx="276.32" cy="315.73" r="1.95"/><circle cx="279.05" cy="309.58" r="1.95"/><circle cx="282.89" cy="299.12" r="1.95"/><circle cx="276.32" cy="308.75" r="1.95"/><circle cx="279.6" cy="302.77" r="1.95"/><circle cx="263.18" cy="309.16" r="1.95"/><circle cx="269.75" cy="320.71" r="1.95"/><circle cx="263.72" cy="318.31" r="1.95"/><circle cx="266.46" cy="316.22" r="1.95"/><circle cx="273.03" cy="305.42" r="1.95"/><circle cx="255.51" cy="310.33" r="1.95"/><circle cx="262.08" cy="320.7" r="1.95"/><circle cx="255.51" cy="318.48" r="1.95"/><circle cx="263.72" cy="310.73" r="1.95"/><circle cx="271.39" cy="299.1" r="1.95"/><circle cx="277.41" cy="289.3" r="1.95"/><circle cx="275.22" cy="287.47" r="1.95"/><circle cx="282.89" cy="268.86" r="1.95"/><circle cx="270.84" cy="287.3" r="1.95"/><circle cx="252.23" cy="321.19" r="1.95"/><circle cx="274.13" cy="273.17" r="1.95"/><circle cx="260.44" cy="293.44" r="1.95"/><circle cx="267.56" cy="313.65" r="1.95"/><circle cx="264.82" cy="294.7" r="1.95"/><circle cx="280.15" cy="314.46" r="1.95"/><circle cx="286.17" cy="318.73" r="1.95"/><circle cx="299.23" cy="303.83" r="1.95"/><circle cx="291.02" cy="292.84" r="1.95"/><circle cx="288.28" cy="295.53" r="1.95"/><circle cx="296.5" cy="309.79" r="1.95"/><circle cx="315.66" cy="301.12" r="1.95"/><circle cx="319.82" cy="296.57" r="1.95"/><circle cx="324.42" cy="285.17" r="1.95"/><circle cx="327.15" cy="280.18" r="1.95"/><circle cx="311.83" cy="301.58" r="1.95"/><circle cx="320.59" cy="281.67" r="1.95"/><circle cx="322.23" cy="277.52" r="1.95"/><circle cx="347.96" cy="229.04" r="1.95"/><circle cx="289.93" cy="312.49" r="1.95"/><circle cx="295.95" cy="321.12" r="1.95"/><circle cx="295.95" cy="316.06" r="1.95"/><circle cx="286.09" cy="312.49" r="1.95"/><circle cx="289.38" cy="318.47" r="1.95"/><circle cx="291.57" cy="318.21" r="1.95"/><circle cx="295.4" cy="312.4" r="1.95"/><circle cx="299.23" cy="306.59" r="1.95"/><circle cx="302.52" cy="302.93" r="1.95"/><circle cx="305.26" cy="295.62" r="1.95"/><circle cx="307.99" cy="289.47" r="1.95"/><circle cx="310.18" cy="287.81" r="1.95"/><circle cx="312.37" cy="289.64" r="1.95"/><circle cx="314.56" cy="289.15" r="1.95"/><circle cx="316.75" cy="280.51" r="1.95"/><circle cx="323.87" cy="263.59" r="1.95"/><circle cx="317.85" cy="268.04" r="1.95"/><circle cx="311.28" cy="277.67" r="1.95"/><circle cx="306.9" cy="283.32" r="1.95"/><circle cx="305.26" cy="281.66" r="1.95"/><circle cx="297.04" cy="297.77" r="1.95"/><circle cx="298.69" cy="295.95" r="1.95"/><circle cx="286.09" cy="319.47" r="1.95"/><circle cx="287.19" cy="311.06" r="1.95"/><circle cx="285.55" cy="309.4" r="1.95"/><circle cx="293.21" cy="293.11" r="1.95"/><circle cx="296.5" cy="289.46" r="1.95"/><circle cx="298.69" cy="285.47" r="1.95"/><circle cx="291.02" cy="291.28" r="1.95"/><circle cx="304.16" cy="267.36" r="1.95"/><circle cx="295.4" cy="275.16" r="1.95"/><circle cx="314.56" cy="263.55" r="1.95"/><circle cx="319.82" cy="253.28" r="1.95"/><circle cx="322.78" cy="249.76" r="1.95"/><circle cx="327.15" cy="222.47" r="1.95"/><circle cx="319.82" cy="225.35" r="1.95"/><circle cx="298.91" cy="232.01" r="1.95"/><circle cx="310.18" cy="297.12" r="1.95"/><circle cx="301.42" cy="295.62" r="1.95"/><circle cx="307.99" cy="276.67" r="1.95"/><circle cx="285.55" cy="294.27" r="1.95"/></g>
<path d="M283.5 332.4V193.5" stroke="#BEBEBE" stroke-width="1.4" stroke-dasharray="5.3 5.53" stroke-dashoffset="0.6" fill="none"/>
<path d="M233.6 277.08C233.92 276.97 234.89 276.58 235.54 276.4C236.18 276.21 236.83 276.06 237.47 275.96C238.12 275.85 238.77 275.79 239.41 275.76C240.06 275.74 240.7 275.75 241.35 275.8C241.99 275.86 242.64 275.95 243.29 276.07C243.93 276.2 244.58 276.36 245.22 276.56C245.87 276.76 246.52 277 247.16 277.27C247.81 277.54 248.45 277.84 249.1 278.18C249.74 278.51 250.39 278.88 251.04 279.28C251.68 279.68 252.33 280.12 252.97 280.58C253.62 281.04 254.26 281.53 254.91 282.04C255.56 282.56 256.2 283.1 256.85 283.67C257.49 284.23 258.14 284.83 258.78 285.44C259.43 286.05 260.08 286.69 260.72 287.35C261.37 288.01 262.01 288.69 262.66 289.38C263.31 290.07 263.95 290.79 264.6 291.51C265.24 292.23 265.89 292.97 266.53 293.69C267.18 294.41 267.83 295.14 268.47 295.85C269.12 296.56 269.76 297.26 270.41 297.92C271.05 298.59 271.7 299.24 272.35 299.85C272.99 300.46 273.64 301.04 274.28 301.56C274.93 302.09 275.57 302.57 276.22 303C276.87 303.42 277.51 303.8 278.16 304.12C278.8 304.44 279.45 304.71 280.09 304.93C280.74 305.15 281.39 305.32 282.03 305.45C282.68 305.58 283.32 305.65 283.97 305.69C284.62 305.73 285.26 305.71 285.91 305.66C286.55 305.61 287.2 305.52 287.84 305.39C288.49 305.25 289.14 305.08 289.78 304.87C290.43 304.66 291.07 304.41 291.72 304.13C292.36 303.85 293.01 303.53 293.66 303.18C294.3 302.82 294.95 302.44 295.59 302.02C296.24 301.6 296.88 301.15 297.53 300.67C298.18 300.19 298.82 299.68 299.47 299.14C300.11 298.6 300.76 298.03 301.41 297.43C302.05 296.83 302.7 296.21 303.34 295.56C303.99 294.91 304.63 294.23 305.28 293.53C305.93 292.83 306.57 292.11 307.22 291.36C307.86 290.62 308.51 289.85 309.15 289.06C309.8 288.27 310.45 287.45 311.09 286.62C311.74 285.79 312.38 284.94 313.03 284.07C313.67 283.2 314.32 282.32 314.97 281.41C315.61 280.51 316.26 279.59 316.9 278.66C317.55 277.73 318.19 276.78 318.84 275.82C319.49 274.86 320.13 273.88 320.78 272.9C321.42 271.91 322.07 270.91 322.72 269.91C323.36 268.9 324.01 267.88 324.65 266.86C325.3 265.84 325.94 264.8 326.59 263.76C327.24 262.72 327.88 261.67 328.53 260.61C329.17 259.55 329.82 258.48 330.46 257.39C331.11 256.3 331.76 255.19 332.4 254.07C333.05 252.94 333.69 251.8 334.34 250.63C334.98 249.46 335.63 248.27 336.28 247.05C336.92 245.83 337.57 244.58 338.21 243.3C338.86 242.02 339.51 240.71 340.15 239.36C340.8 238.02 341.44 236.64 342.09 235.21C342.73 233.79 343.38 232.33 344.03 230.83C344.67 229.33 345.32 227.78 345.96 226.19C346.61 224.59 347.58 222.08 347.9 221.26" stroke="#000" stroke-width="1.6" fill="none" stroke-linejoin="round"/>
</g>
<rect x="209.55" y="193.5" width="150.8" height="138.9" fill="none" stroke="#222" stroke-width="1.15"/>
<rect x="209.55" y="7.6" width="150.8" height="43.9" fill="#D9D9D9" stroke="#222" stroke-width="1.15"/>
<text x="259.66" y="22.10" font-family='"Liberation Serif",serif' font-size="11.4" fill="#000" textLength="54.10" lengthAdjust="spacingAndGlyphs">Elastic Net</text>
<text x="230.38" y="42.00" font-family='"Liberation Serif",serif' font-size="11.4" fill="#000" textLength="112.85" lengthAdjust="spacingAndGlyphs">(resistant vs. sensitive)</text>
<text x="209.23" y="346.80" font-family='"Liberation Sans",sans-serif' font-size="11.2" fill="#111" textLength="16.02" lengthAdjust="spacingAndGlyphs" stroke="#111" stroke-width="0.3">0.0</text>
<text x="243.96" y="346.80" font-family='"Liberation Sans",sans-serif' font-size="11.2" fill="#111" textLength="16.20" lengthAdjust="spacingAndGlyphs" stroke="#111" stroke-width="0.3">2.5</text>
<text x="278.95" y="346.80" font-family='"Liberation Sans",sans-serif' font-size="11.2" fill="#111" textLength="16.05" lengthAdjust="spacingAndGlyphs" stroke="#111" stroke-width="0.3">5.0</text>
<text x="313.71" y="346.80" font-family='"Liberation Sans",sans-serif' font-size="11.2" fill="#111" textLength="16.20" lengthAdjust="spacingAndGlyphs" stroke="#111" stroke-width="0.3">7.5</text>
<text x="345.38" y="346.80" font-family='"Liberation Sans",sans-serif' font-size="11.2" fill="#111" textLength="22.30" lengthAdjust="spacingAndGlyphs" stroke="#111" stroke-width="0.3">10.0</text>
<path d="M217.24 332.4v4.1 M252.12 332.4v4.1 M286.99 332.4v4.1 M321.87 332.4v4.1 M356.74 332.4v4.1" stroke="#222" stroke-width="1.15"/>
<rect x="367.9" y="51.5" width="150.8" height="129.5" fill="#fff"/>
<path d="M367.9 159.56H518.7 M367.9 129.69H518.7 M367.9 99.81H518.7 M367.9 69.94H518.7 M393.03 51.5V181 M427.9 51.5V181 M462.78 51.5V181 M497.65 51.5V181" stroke="#EBEBEB" stroke-width="0.55" fill="none"/>
<path d="M367.9 174.5H518.7 M367.9 144.62H518.7 M367.9 114.75H518.7 M367.9 84.88H518.7 M367.9 55H518.7 M375.59 51.5V181 M410.46 51.5V181 M445.34 51.5V181 M480.21 51.5V181 M515.09 51.5V181" stroke="#EBEBEB" stroke-width="1.1" fill="none"/>
<defs><clipPath id="cA21"><rect x="367.9" y="51.5" width="150.8" height="129.5"/></clipPath></defs>
<g clip-path="url(#cA21)">
<path d="M367.9 181.09L518.7 51.91" stroke="#BEBEBE" stroke-width="0.6" fill="none"/>
<g fill="#CC6677"><circle cx="394.68" cy="108.91" r="1.95"/><circle cx="399.06" cy="109.45" r="1.95"/><circle cx="407.49" cy="110.11" r="1.95"/><circle cx="402.02" cy="114.16" r="1.95"/><circle cx="403.11" cy="115.8" r="1.95"/><circle cx="407.49" cy="114.49" r="1.95"/><circle cx="403.66" cy="125.33" r="1.95"/><circle cx="395.45" cy="128.4" r="1.95"/><circle cx="407.49" cy="132.01" r="1.95"/><circle cx="391.61" cy="135.73" r="1.95"/><circle cx="396.54" cy="135.73" r="1.95"/><circle cx="399.06" cy="136.61" r="1.95"/><circle cx="392.71" cy="139.34" r="1.95"/><circle cx="394.9" cy="141.53" r="1.95"/><circle cx="401.47" cy="139.34" r="1.95"/><circle cx="404.21" cy="141.53" r="1.95"/><circle cx="406.4" cy="141.53" r="1.95"/></g>
<g fill="#6699CC"><circle cx="408.04" cy="111.2" r="1.95"/><circle cx="412.42" cy="108.69" r="1.95"/><circle cx="415.7" cy="109.78" r="1.95"/><circle cx="418.99" cy="108.69" r="1.95"/><circle cx="422.27" cy="109.23" r="1.95"/><circle cx="425.56" cy="108.69" r="1.95"/><circle cx="428.84" cy="108.69" r="1.95"/><circle cx="432.13" cy="108.69" r="1.95"/><circle cx="435.41" cy="108.69" r="1.95"/><circle cx="438.7" cy="108.69" r="1.95"/><circle cx="441.98" cy="108.69" r="1.95"/><circle cx="445.27" cy="109.23" r="1.95"/><circle cx="413.51" cy="112.52" r="1.95"/><circle cx="416.8" cy="112.52" r="1.95"/><circle cx="420.08" cy="111.97" r="1.95"/><circle cx="423.37" cy="112.52" r="1.95"/><circle cx="426.65" cy="111.42" r="1.95"/><circle cx="429.94" cy="112.52" r="1.95"/><circle cx="433.22" cy="111.97" r="1.95"/><circle cx="436.51" cy="111.42" r="1.95"/><circle cx="439.79" cy="111.97" r="1.95"/><circle cx="443.08" cy="112.52" r="1.95"/><circle cx="446.36" cy="111.97" r="1.95"/><circle cx="414.61" cy="115.26" r="1.95"/><circle cx="418.99" cy="115.26" r="1.95"/><circle cx="422.27" cy="115.8" r="1.95"/><circle cx="425.56" cy="114.71" r="1.95"/><circle cx="428.84" cy="114.71" r="1.95"/><circle cx="432.13" cy="115.26" r="1.95"/><circle cx="435.41" cy="114.71" r="1.95"/><circle cx="438.7" cy="115.26" r="1.95"/><circle cx="443.08" cy="114.71" r="1.95"/><circle cx="410.23" cy="116.9" r="1.95"/><circle cx="423.37" cy="117.45" r="1.95"/><circle cx="436.51" cy="118.54" r="1.95"/><circle cx="442.53" cy="119.09" r="1.95"/><circle cx="414.06" cy="120.73" r="1.95"/><circle cx="418.99" cy="120.18" r="1.95"/><circle cx="429.17" cy="122.7" r="1.95"/><circle cx="422.82" cy="126.53" r="1.95"/><circle cx="425.34" cy="128.72" r="1.95"/><circle cx="435.19" cy="126.53" r="1.95"/><circle cx="410.23" cy="135.73" r="1.95"/><circle cx="422.27" cy="133.54" r="1.95"/><circle cx="421.18" cy="136.61" r="1.95"/><circle cx="427.75" cy="136.39" r="1.95"/><circle cx="429.94" cy="138.8" r="1.95"/><circle cx="432.13" cy="138.8" r="1.95"/><circle cx="435.96" cy="138.8" r="1.95"/><circle cx="437.6" cy="133.1" r="1.95"/><circle cx="441.1" cy="133.54" r="1.95"/><circle cx="418.99" cy="142.63" r="1.95"/><circle cx="422.27" cy="141.86" r="1.95"/><circle cx="429.94" cy="144.27" r="1.95"/><circle cx="433.22" cy="143.18" r="1.95"/><circle cx="413.51" cy="148.65" r="1.95"/><circle cx="412.42" cy="113.07" r="1.95"/><circle cx="411.87" cy="110.88" r="1.95"/><circle cx="444.09" cy="109.23" r="1.95"/><circle cx="447.38" cy="108.69" r="1.95"/><circle cx="450.66" cy="109.23" r="1.95"/><circle cx="453.95" cy="108.69" r="1.95"/><circle cx="457.23" cy="108.14" r="1.95"/><circle cx="460.52" cy="108.69" r="1.95"/><circle cx="463.8" cy="108.69" r="1.95"/><circle cx="467.09" cy="109.23" r="1.95"/><circle cx="470.37" cy="108.69" r="1.95"/><circle cx="473.66" cy="108.69" r="1.95"/><circle cx="476.94" cy="108.69" r="1.95"/><circle cx="480.23" cy="109.23" r="1.95"/><circle cx="483.51" cy="109.78" r="1.95"/><circle cx="485.7" cy="111.42" r="1.95"/><circle cx="445.19" cy="112.52" r="1.95"/><circle cx="448.47" cy="112.52" r="1.95"/><circle cx="451.76" cy="111.97" r="1.95"/><circle cx="455.04" cy="112.52" r="1.95"/><circle cx="458.33" cy="112.52" r="1.95"/><circle cx="461.61" cy="111.97" r="1.95"/><circle cx="464.9" cy="112.52" r="1.95"/><circle cx="468.18" cy="113.07" r="1.95"/><circle cx="471.47" cy="111.42" r="1.95"/><circle cx="474.75" cy="111.42" r="1.95"/><circle cx="478.04" cy="112.52" r="1.95"/><circle cx="481.32" cy="111.97" r="1.95"/><circle cx="484.61" cy="111.97" r="1.95"/><circle cx="453.95" cy="115.26" r="1.95"/><circle cx="457.23" cy="114.71" r="1.95"/><circle cx="478.04" cy="114.16" r="1.95"/><circle cx="480.78" cy="115.26" r="1.95"/><circle cx="506.29" cy="111.97" r="1.95"/><circle cx="443.55" cy="119.09" r="1.95"/><circle cx="463.26" cy="117.99" r="1.95"/><circle cx="457.02" cy="125.11" r="1.95"/><circle cx="469.83" cy="129.16" r="1.95"/><circle cx="457.23" cy="136.06" r="1.95"/><circle cx="449.57" cy="111.42" r="1.95"/><circle cx="465.99" cy="110.88" r="1.95"/><circle cx="475.85" cy="110.33" r="1.95"/></g>
<path d="M367.9 114.3H518.7" stroke="#6699CC" stroke-width="1.25" stroke-dasharray="5.5 5.33" stroke-dashoffset="0.53" fill="none"/>
<path d="M367.9 158.35H518.7" stroke="#CC6677" stroke-width="1.25" stroke-dasharray="5.5 5.33" stroke-dashoffset="0.53" fill="none"/>
<path d="M391.8 126L506 104.9" stroke="#000" stroke-width="1.6" fill="none"/>
</g>
<rect x="367.9" y="51.5" width="150.8" height="129.5" fill="none" stroke="#222" stroke-width="1.15"/>
<rect x="367.9" y="193.5" width="150.8" height="138.9" fill="#fff"/>
<path d="M367.9 308.8H518.7 M367.9 283.4H518.7 M367.9 258H518.7 M367.9 232.6H518.7 M367.9 207.2H518.7 M393.03 193.5V332.4 M427.9 193.5V332.4 M462.78 193.5V332.4 M497.65 193.5V332.4" stroke="#EBEBEB" stroke-width="0.55" fill="none"/>
<path d="M367.9 321.5H518.7 M367.9 296.1H518.7 M367.9 270.7H518.7 M367.9 245.3H518.7 M367.9 219.9H518.7 M367.9 194.5H518.7 M375.59 193.5V332.4 M410.46 193.5V332.4 M445.34 193.5V332.4 M480.21 193.5V332.4 M515.09 193.5V332.4" stroke="#EBEBEB" stroke-width="1.1" fill="none"/>
<defs><clipPath id="cA22"><rect x="367.9" y="193.5" width="150.8" height="138.9"/></clipPath></defs>
<g clip-path="url(#cA22)">
<g fill="#CC6677"><circle cx="394.68" cy="216.84" r="1.95"/><circle cx="399.06" cy="225.97" r="1.95"/><circle cx="407.49" cy="242.72" r="1.95"/><circle cx="402.02" cy="241.36" r="1.95"/><circle cx="403.11" cy="246.85" r="1.95"/><circle cx="407.49" cy="252.03" r="1.95"/><circle cx="403.66" cy="268.09" r="1.95"/><circle cx="395.45" cy="259.66" r="1.95"/><circle cx="407.49" cy="289.27" r="1.95"/><circle cx="391.61" cy="268.27" r="1.95"/><circle cx="396.54" cy="277.24" r="1.95"/><circle cx="399.06" cy="283.69" r="1.95"/><circle cx="392.71" cy="277.95" r="1.95"/><circle cx="394.9" cy="286.59" r="1.95"/><circle cx="401.47" cy="293.9" r="1.95"/><circle cx="404.21" cy="303.53" r="1.95"/><circle cx="406.4" cy="307.52" r="1.95"/></g>
<g fill="#6699CC"><circle cx="408.04" cy="246.05" r="1.95"/><circle cx="412.42" cy="248.67" r="1.95"/><circle cx="415.7" cy="256.98" r="1.95"/><circle cx="418.99" cy="260.63" r="1.95"/><circle cx="422.27" cy="267.77" r="1.95"/><circle cx="425.56" cy="272.59" r="1.95"/><circle cx="428.84" cy="278.57" r="1.95"/><circle cx="432.13" cy="284.55" r="1.95"/><circle cx="435.41" cy="290.53" r="1.95"/><circle cx="438.7" cy="296.51" r="1.95"/><circle cx="441.98" cy="302.5" r="1.95"/><circle cx="445.27" cy="309.64" r="1.95"/><circle cx="413.51" cy="258.81" r="1.95"/><circle cx="416.8" cy="264.79" r="1.95"/><circle cx="420.08" cy="269.6" r="1.95"/><circle cx="423.37" cy="276.75" r="1.95"/><circle cx="426.65" cy="280.4" r="1.95"/><circle cx="429.94" cy="288.71" r="1.95"/><circle cx="433.22" cy="293.53" r="1.95"/><circle cx="436.51" cy="298.35" r="1.95"/><circle cx="439.79" cy="305.49" r="1.95"/><circle cx="443.08" cy="312.63" r="1.95"/><circle cx="446.36" cy="317.45" r="1.95"/><circle cx="414.61" cy="266.62" r="1.95"/><circle cx="418.99" cy="274.59" r="1.95"/><circle cx="422.27" cy="281.74" r="1.95"/><circle cx="425.56" cy="285.39" r="1.95"/><circle cx="428.84" cy="291.37" r="1.95"/><circle cx="432.13" cy="298.52" r="1.95"/><circle cx="435.41" cy="303.33" r="1.95"/><circle cx="438.7" cy="310.48" r="1.95"/><circle cx="443.08" cy="317.29" r="1.95"/><circle cx="410.23" cy="262.13" r="1.95"/><circle cx="423.37" cy="287.22" r="1.95"/><circle cx="436.51" cy="313.47" r="1.95"/><circle cx="442.53" cy="317.4" r="1.95"/><circle cx="414.06" cy="277.26" r="1.95"/><circle cx="418.99" cy="285.07" r="1.95"/><circle cx="429.17" cy="308.96" r="1.95"/><circle cx="422.82" cy="305.54" r="1.95"/><circle cx="425.34" cy="314.78" r="1.95"/><circle cx="435.19" cy="314.93" r="1.95"/><circle cx="410.23" cy="302.16" r="1.95"/><circle cx="422.27" cy="319.44" r="1.95"/><circle cx="421.18" cy="319.04" r="1.95"/><circle cx="427.75" cy="307.54" r="1.95"/><circle cx="429.94" cy="298.43" r="1.95"/><circle cx="432.13" cy="294.45" r="1.95"/><circle cx="435.96" cy="287.47" r="1.95"/><circle cx="437.6" cy="296.58" r="1.95"/><circle cx="441.1" cy="289.27" r="1.95"/><circle cx="418.99" cy="310.22" r="1.95"/><circle cx="422.27" cy="305.87" r="1.95"/><circle cx="429.94" cy="286.8" r="1.95"/><circle cx="433.22" cy="283.14" r="1.95"/><circle cx="413.51" cy="307.39" r="1.95"/><circle cx="412.42" cy="257.98" r="1.95"/><circle cx="411.87" cy="252.33" r="1.95"/><circle cx="444.09" cy="307.51" r="1.95"/><circle cx="447.38" cy="312.33" r="1.95"/><circle cx="450.66" cy="319.47" r="1.95"/><circle cx="453.95" cy="318.71" r="1.95"/><circle cx="457.23" cy="313.89" r="1.95"/><circle cx="460.52" cy="306.75" r="1.95"/><circle cx="463.8" cy="300.77" r="1.95"/><circle cx="467.09" cy="293.62" r="1.95"/><circle cx="470.37" cy="288.81" r="1.95"/><circle cx="473.66" cy="282.83" r="1.95"/><circle cx="476.94" cy="276.85" r="1.95"/><circle cx="480.23" cy="269.7" r="1.95"/><circle cx="483.51" cy="262.56" r="1.95"/><circle cx="485.7" cy="255.08" r="1.95"/><circle cx="445.19" cy="316.48" r="1.95"/><circle cx="448.47" cy="320.53" r="1.95"/><circle cx="451.76" cy="315.72" r="1.95"/><circle cx="455.04" cy="308.57" r="1.95"/><circle cx="458.33" cy="302.59" r="1.95"/><circle cx="461.61" cy="297.77" r="1.95"/><circle cx="464.9" cy="290.63" r="1.95"/><circle cx="468.18" cy="283.49" r="1.95"/><circle cx="471.47" cy="281" r="1.95"/><circle cx="474.75" cy="275.01" r="1.95"/><circle cx="478.04" cy="266.71" r="1.95"/><circle cx="481.32" cy="261.89" r="1.95"/><circle cx="484.61" cy="255.91" r="1.95"/><circle cx="453.95" cy="304.75" r="1.95"/><circle cx="457.23" cy="299.93" r="1.95"/><circle cx="478.04" cy="263.22" r="1.95"/><circle cx="480.78" cy="255.9" r="1.95"/><circle cx="506.29" cy="216.43" r="1.95"/><circle cx="443.55" cy="315.54" r="1.95"/><circle cx="463.26" cy="281.98" r="1.95"/><circle cx="457.02" cy="278.22" r="1.95"/><circle cx="469.83" cy="246.28" r="1.95"/><circle cx="457.23" cy="254.55" r="1.95"/><circle cx="449.57" cy="320.87" r="1.95"/><circle cx="465.99" cy="292.13" r="1.95"/><circle cx="475.85" cy="275.35" r="1.95"/><circle cx="413.12" cy="254.37" r="1.95"/><circle cx="414.22" cy="257.66" r="1.95"/><circle cx="415.31" cy="259.84" r="1.95"/><circle cx="418.59" cy="262.58" r="1.95"/><circle cx="419.69" cy="263.67" r="1.95"/><circle cx="420.78" cy="267.5" r="1.95"/><circle cx="421.87" cy="269.69" r="1.95"/><circle cx="422.97" cy="271.87" r="1.95"/><circle cx="424.06" cy="273.52" r="1.95"/><circle cx="427.34" cy="277.34" r="1.95"/><circle cx="429.53" cy="282.81" r="1.95"/><circle cx="431.72" cy="283.91" r="1.95"/><circle cx="432.81" cy="286.09" r="1.95"/><circle cx="428.44" cy="286.09" r="1.95"/><circle cx="430.62" cy="288.28" r="1.95"/><circle cx="433.91" cy="279.53" r="1.95"/><circle cx="436.09" cy="287.19" r="1.95"/><circle cx="435" cy="291.01" r="1.95"/><circle cx="428.44" cy="297.03" r="1.95"/><circle cx="429.53" cy="300.31" r="1.95"/><circle cx="431.72" cy="301.41" r="1.95"/><circle cx="432.81" cy="298.12" r="1.95"/><circle cx="437.19" cy="297.03" r="1.95"/><circle cx="438.28" cy="300.31" r="1.95"/><circle cx="439.37" cy="303.59" r="1.95"/><circle cx="441.56" cy="304.69" r="1.95"/><circle cx="443.75" cy="305.78" r="1.95"/><circle cx="442.66" cy="310.7" r="1.95"/><circle cx="445.94" cy="312.34" r="1.95"/><circle cx="448.12" cy="315.62" r="1.95"/><circle cx="450.31" cy="318.91" r="1.95"/><circle cx="447.03" cy="317.81" r="1.95"/><circle cx="454.69" cy="311.25" r="1.95"/><circle cx="456.87" cy="311.25" r="1.95"/><circle cx="453.59" cy="314.53" r="1.95"/><circle cx="454.69" cy="315.62" r="1.95"/><circle cx="421.87" cy="305.78" r="1.95"/><circle cx="421.87" cy="317.81" r="1.95"/><circle cx="436.09" cy="313.44" r="1.95"/></g>
<path d="M441.85 332.4V193.5" stroke="#BEBEBE" stroke-width="1.4" stroke-dasharray="5.3 5.53" stroke-dashoffset="0.6" fill="none"/>
<path d="M391.6 262.45C391.92 262.5 392.9 262.6 393.55 262.71C394.19 262.82 394.84 262.96 395.49 263.12C396.14 263.28 396.79 263.47 397.44 263.68C398.09 263.89 398.73 264.12 399.38 264.38C400.03 264.64 400.68 264.92 401.33 265.23C401.98 265.53 402.63 265.86 403.27 266.22C403.92 266.57 404.57 266.95 405.22 267.35C405.87 267.75 406.52 268.18 407.17 268.62C407.81 269.07 408.46 269.54 409.11 270.04C409.76 270.53 410.41 271.05 411.06 271.59C411.71 272.13 412.35 272.7 413 273.29C413.65 273.87 414.3 274.48 414.95 275.12C415.6 275.75 416.25 276.41 416.89 277.08C417.54 277.76 418.19 278.46 418.84 279.19C419.49 279.91 420.14 280.66 420.79 281.42C421.44 282.19 422.08 282.98 422.73 283.79C423.38 284.6 424.03 285.44 424.68 286.3C425.33 287.15 425.98 288.03 426.62 288.92C427.27 289.81 427.92 290.72 428.57 291.62C429.22 292.52 429.87 293.43 430.52 294.32C431.16 295.2 431.81 296.09 432.46 296.95C433.11 297.8 433.76 298.65 434.41 299.45C435.06 300.25 435.7 301.03 436.35 301.75C437 302.47 437.65 303.16 438.3 303.78C438.95 304.4 439.6 304.97 440.24 305.48C440.89 305.99 441.54 306.44 442.19 306.83C442.84 307.22 443.49 307.55 444.14 307.81C444.78 308.07 445.43 308.27 446.08 308.39C446.73 308.52 447.38 308.58 448.03 308.56C448.68 308.55 449.32 308.46 449.97 308.3C450.62 308.14 451.27 307.9 451.92 307.58C452.57 307.26 453.22 306.87 453.86 306.39C454.51 305.91 455.16 305.35 455.81 304.73C456.46 304.11 457.11 303.4 457.76 302.65C458.4 301.9 459.05 301.08 459.7 300.22C460.35 299.36 461 298.44 461.65 297.48C462.3 296.53 462.94 295.53 463.59 294.51C464.24 293.49 464.89 292.43 465.54 291.36C466.19 290.29 466.84 289.2 467.48 288.09C468.13 286.98 468.78 285.86 469.43 284.72C470.08 283.57 470.73 282.42 471.38 281.23C472.02 280.05 472.67 278.85 473.32 277.62C473.97 276.39 474.62 275.14 475.27 273.87C475.92 272.59 476.56 271.29 477.21 269.95C477.86 268.62 478.51 267.26 479.16 265.87C479.81 264.48 480.46 263.06 481.11 261.61C481.75 260.17 482.4 258.69 483.05 257.2C483.7 255.71 484.35 254.2 485 252.69C485.65 251.18 486.29 249.66 486.94 248.14C487.59 246.63 488.24 245.11 488.89 243.61C489.54 242.11 490.19 240.61 490.83 239.14C491.48 237.67 492.13 236.22 492.78 234.8C493.43 233.38 494.08 231.99 494.73 230.61C495.37 229.24 496.02 227.89 496.67 226.55C497.32 225.2 497.97 223.88 498.62 222.54C499.27 221.21 499.91 219.89 500.56 218.54C501.21 217.2 501.86 215.86 502.51 214.49C503.16 213.12 503.81 211.74 504.45 210.33C505.1 208.91 506.08 206.72 506.4 206" stroke="#000" stroke-width="1.6" fill="none" stroke-linejoin="round"/>
</g>
<rect x="367.9" y="193.5" width="150.8" height="138.9" fill="none" stroke="#222" stroke-width="1.15"/>
<rect x="367.9" y="7.6" width="150.8" height="43.9" fill="#D9D9D9" stroke="#222" stroke-width="1.15"/>
<text x="405.97" y="22.10" font-family='"Liberation Serif",serif' font-size="11.4" fill="#000" textLength="78.03" lengthAdjust="spacingAndGlyphs">Neural Network</text>
<text x="388.88" y="42.00" font-family='"Liberation Serif",serif' font-size="11.4" fill="#000" textLength="112.85" lengthAdjust="spacingAndGlyphs">(resistant vs. sensitive)</text>
<text x="367.58" y="346.80" font-family='"Liberation Sans",sans-serif' font-size="11.2" fill="#111" textLength="16.02" lengthAdjust="spacingAndGlyphs" stroke="#111" stroke-width="0.3">0.0</text>
<text x="402.31" y="346.80" font-family='"Liberation Sans",sans-serif' font-size="11.2" fill="#111" textLength="16.20" lengthAdjust="spacingAndGlyphs" stroke="#111" stroke-width="0.3">2.5</text>
<text x="437.30" y="346.80" font-family='"Liberation Sans",sans-serif' font-size="11.2" fill="#111" textLength="16.05" lengthAdjust="spacingAndGlyphs" stroke="#111" stroke-width="0.3">5.0</text>
<text x="472.06" y="346.80" font-family='"Liberation Sans",sans-serif' font-size="11.2" fill="#111" textLength="16.20" lengthAdjust="spacingAndGlyphs" stroke="#111" stroke-width="0.3">7.5</text>
<text x="503.73" y="346.80" font-family='"Liberation Sans",sans-serif' font-size="11.2" fill="#111" textLength="22.30" lengthAdjust="spacingAndGlyphs" stroke="#111" stroke-width="0.3">10.0</text>
<path d="M375.59 332.4v4.1 M410.46 332.4v4.1 M445.34 332.4v4.1 M480.21 332.4v4.1 M515.09 332.4v4.1" stroke="#222" stroke-width="1.15"/>
<rect x="526.3" y="51.5" width="150.8" height="129.5" fill="#fff"/>
<path d="M526.3 159.56H677.1 M526.3 129.69H677.1 M526.3 99.81H677.1 M526.3 69.94H677.1 M551.38 51.5V181 M586.25 51.5V181 M621.13 51.5V181 M656 51.5V181" stroke="#EBEBEB" stroke-width="0.55" fill="none"/>
<path d="M526.3 174.5H677.1 M526.3 144.62H677.1 M526.3 114.75H677.1 M526.3 84.88H677.1 M526.3 55H677.1 M533.94 51.5V181 M568.82 51.5V181 M603.69 51.5V181 M638.57 51.5V181 M673.44 51.5V181" stroke="#EBEBEB" stroke-width="1.1" fill="none"/>
<defs><clipPath id="cA31"><rect x="526.3" y="51.5" width="150.8" height="129.5"/></clipPath></defs>
<g clip-path="url(#cA31)">
<path d="M526.3 181.04L677.1 51.86" stroke="#BEBEBE" stroke-width="0.6" fill="none"/>
<g fill="#CC6677"><circle cx="565.82" cy="108.36" r="1.95"/><circle cx="561.66" cy="112.3" r="1.95"/><circle cx="557.28" cy="115.58" r="1.95"/><circle cx="561.88" cy="120.4" r="1.95"/><circle cx="565.82" cy="118.54" r="1.95"/><circle cx="552.9" cy="124.34" r="1.95"/><circle cx="560.34" cy="127.3" r="1.95"/><circle cx="559.69" cy="131.35" r="1.95"/><circle cx="562.53" cy="134.64" r="1.95"/><circle cx="552.9" cy="136.39" r="1.95"/><circle cx="556.73" cy="138.25" r="1.95"/><circle cx="553.99" cy="139.89" r="1.95"/><circle cx="549.61" cy="140.11" r="1.95"/><circle cx="551.26" cy="143.18" r="1.95"/><circle cx="564.72" cy="139.34" r="1.95"/><circle cx="565.82" cy="145.59" r="1.95"/></g>
<g fill="#6699CC"><circle cx="578.08" cy="103.98" r="1.95"/><circle cx="572.61" cy="106.5" r="1.95"/><circle cx="574.8" cy="105.95" r="1.95"/><circle cx="570.42" cy="108.69" r="1.95"/><circle cx="573.7" cy="109.23" r="1.95"/><circle cx="576.99" cy="108.14" r="1.95"/><circle cx="580.27" cy="109.23" r="1.95"/><circle cx="583.56" cy="108.69" r="1.95"/><circle cx="586.84" cy="108.69" r="1.95"/><circle cx="590.67" cy="105.4" r="1.95"/><circle cx="593.96" cy="107.04" r="1.95"/><circle cx="597.79" cy="107.59" r="1.95"/><circle cx="601.08" cy="108.69" r="1.95"/><circle cx="604.36" cy="107.04" r="1.95"/><circle cx="571.51" cy="112.52" r="1.95"/><circle cx="574.8" cy="111.97" r="1.95"/><circle cx="579.18" cy="111.42" r="1.95"/><circle cx="582.46" cy="112.52" r="1.95"/><circle cx="585.75" cy="112.52" r="1.95"/><circle cx="589.03" cy="111.97" r="1.95"/><circle cx="592.32" cy="111.42" r="1.95"/><circle cx="595.6" cy="110.33" r="1.95"/><circle cx="598.89" cy="110.33" r="1.95"/><circle cx="603.27" cy="111.42" r="1.95"/><circle cx="572.61" cy="115.26" r="1.95"/><circle cx="576.99" cy="116.35" r="1.95"/><circle cx="581.37" cy="115.8" r="1.95"/><circle cx="584.65" cy="115.26" r="1.95"/><circle cx="587.94" cy="115.8" r="1.95"/><circle cx="591.22" cy="116.9" r="1.95"/><circle cx="594.51" cy="116.35" r="1.95"/><circle cx="597.79" cy="114.71" r="1.95"/><circle cx="602.17" cy="115.8" r="1.95"/><circle cx="576.99" cy="119.64" r="1.95"/><circle cx="581.37" cy="119.64" r="1.95"/><circle cx="585.75" cy="120.18" r="1.95"/><circle cx="590.13" cy="120.18" r="1.95"/><circle cx="594.51" cy="121.83" r="1.95"/><circle cx="598.89" cy="121.28" r="1.95"/><circle cx="602.17" cy="119.09" r="1.95"/><circle cx="574.25" cy="124.56" r="1.95"/><circle cx="580.27" cy="122.92" r="1.95"/><circle cx="588.48" cy="122.37" r="1.95"/><circle cx="566.59" cy="126.21" r="1.95"/><circle cx="568.78" cy="130.04" r="1.95"/><circle cx="572.06" cy="132.78" r="1.95"/><circle cx="572.06" cy="133.87" r="1.95"/><circle cx="578.63" cy="130.04" r="1.95"/><circle cx="580.82" cy="133.32" r="1.95"/><circle cx="582.46" cy="131.13" r="1.95"/><circle cx="584.65" cy="131.13" r="1.95"/><circle cx="586.84" cy="126.75" r="1.95"/><circle cx="589.03" cy="127.85" r="1.95"/><circle cx="590.67" cy="128.94" r="1.95"/><circle cx="592.32" cy="127.85" r="1.95"/><circle cx="587.39" cy="134.42" r="1.95"/><circle cx="587.94" cy="137.15" r="1.95"/><circle cx="592.32" cy="132.23" r="1.95"/><circle cx="594.51" cy="135.51" r="1.95"/><circle cx="599.43" cy="135.29" r="1.95"/><circle cx="580.27" cy="136.61" r="1.95"/><circle cx="582.46" cy="133.87" r="1.95"/><circle cx="596.15" cy="132.78" r="1.95"/><circle cx="568.78" cy="142.08" r="1.95"/><circle cx="590.67" cy="142.3" r="1.95"/><circle cx="577.21" cy="145.59" r="1.95"/><circle cx="585.75" cy="131.68" r="1.95"/><circle cx="590.13" cy="125.66" r="1.95"/><circle cx="616.11" cy="102.45" r="1.95"/><circle cx="632.53" cy="100.69" r="1.95"/><circle cx="623.77" cy="105.4" r="1.95"/><circle cx="632.21" cy="106.5" r="1.95"/><circle cx="636.59" cy="104.64" r="1.95"/><circle cx="640.96" cy="105.07" r="1.95"/><circle cx="643.48" cy="103.76" r="1.95"/><circle cx="637.13" cy="106.83" r="1.95"/><circle cx="638.23" cy="108.69" r="1.95"/><circle cx="607.57" cy="104.85" r="1.95"/><circle cx="605.38" cy="107.04" r="1.95"/><circle cx="602.64" cy="108.69" r="1.95"/><circle cx="613.04" cy="107.59" r="1.95"/><circle cx="612.5" cy="109.78" r="1.95"/><circle cx="607.57" cy="110.33" r="1.95"/><circle cx="602.09" cy="112.52" r="1.95"/><circle cx="605.38" cy="113.61" r="1.95"/><circle cx="611.95" cy="112.52" r="1.95"/><circle cx="618.52" cy="113.07" r="1.95"/><circle cx="621.8" cy="114.71" r="1.95"/><circle cx="615.23" cy="115.8" r="1.95"/><circle cx="628.37" cy="111.42" r="1.95"/><circle cx="628.92" cy="113.61" r="1.95"/><circle cx="633.85" cy="113.61" r="1.95"/><circle cx="636.59" cy="115.8" r="1.95"/><circle cx="639.32" cy="114.71" r="1.95"/><circle cx="640.96" cy="114.71" r="1.95"/><circle cx="623.99" cy="116.9" r="1.95"/><circle cx="626.18" cy="117.99" r="1.95"/><circle cx="620.71" cy="119.64" r="1.95"/><circle cx="631.66" cy="119.31" r="1.95"/><circle cx="636.59" cy="121.83" r="1.95"/><circle cx="643.7" cy="120.4" r="1.95"/><circle cx="608.12" cy="121.83" r="1.95"/><circle cx="613.04" cy="122.92" r="1.95"/><circle cx="611.95" cy="124.02" r="1.95"/><circle cx="609.76" cy="117.99" r="1.95"/><circle cx="603.19" cy="116.9" r="1.95"/><circle cx="601.55" cy="120.18" r="1.95"/><circle cx="664.51" cy="111.2" r="1.95"/><circle cx="615.78" cy="135.51" r="1.95"/><circle cx="601" cy="134.96" r="1.95"/></g>
<path d="M526.3 114.3H677.1" stroke="#6699CC" stroke-width="1.25" stroke-dasharray="5.5 5.33" stroke-dashoffset="0.53" fill="none"/>
<path d="M526.3 158.35H677.1" stroke="#CC6677" stroke-width="1.25" stroke-dasharray="5.5 5.33" stroke-dashoffset="0.53" fill="none"/>
<path d="M550.2 127.6L664.5 105.2" stroke="#000" stroke-width="1.6" fill="none"/>
</g>
<rect x="526.3" y="51.5" width="150.8" height="129.5" fill="none" stroke="#222" stroke-width="1.15"/>
<rect x="526.3" y="193.5" width="150.8" height="138.9" fill="#fff"/>
<path d="M526.3 308.8H677.1 M526.3 283.4H677.1 M526.3 258H677.1 M526.3 232.6H677.1 M526.3 207.2H677.1 M551.38 193.5V332.4 M586.25 193.5V332.4 M621.13 193.5V332.4 M656 193.5V332.4" stroke="#EBEBEB" stroke-width="0.55" fill="none"/>
<path d="M526.3 321.5H677.1 M526.3 296.1H677.1 M526.3 270.7H677.1 M526.3 245.3H677.1 M526.3 219.9H677.1 M526.3 194.5H677.1 M533.94 193.5V332.4 M568.82 193.5V332.4 M603.69 193.5V332.4 M638.57 193.5V332.4 M673.44 193.5V332.4" stroke="#EBEBEB" stroke-width="1.1" fill="none"/>
<defs><clipPath id="cA32"><rect x="526.3" y="193.5" width="150.8" height="138.9"/></clipPath></defs>
<g clip-path="url(#cA32)">
<g fill="#CC6677"><circle cx="565.82" cy="238.96" r="1.95"/><circle cx="561.66" cy="239.76" r="1.95"/><circle cx="557.28" cy="238.77" r="1.95"/><circle cx="561.88" cy="257.38" r="1.95"/><circle cx="565.82" cy="260.6" r="1.95"/><circle cx="552.9" cy="249.41" r="1.95"/><circle cx="560.34" cy="269.25" r="1.95"/><circle cx="559.69" cy="276.67" r="1.95"/><circle cx="562.53" cy="288.83" r="1.95"/><circle cx="552.9" cy="275.01" r="1.95"/><circle cx="556.73" cy="285.95" r="1.95"/><circle cx="553.99" cy="284.45" r="1.95"/><circle cx="549.61" cy="276.94" r="1.95"/><circle cx="551.26" cy="286.45" r="1.95"/><circle cx="564.72" cy="302.83" r="1.95"/><circle cx="565.82" cy="318.09" r="1.95"/></g>
<g fill="#6699CC"><circle cx="578.08" cy="251.98" r="1.95"/><circle cx="572.61" cy="247.36" r="1.95"/><circle cx="574.8" cy="250.19" r="1.95"/><circle cx="570.42" cy="248.03" r="1.95"/><circle cx="573.7" cy="255.17" r="1.95"/><circle cx="576.99" cy="258.83" r="1.95"/><circle cx="580.27" cy="267.14" r="1.95"/><circle cx="583.56" cy="271.95" r="1.95"/><circle cx="586.84" cy="277.93" r="1.95"/><circle cx="590.67" cy="277.93" r="1.95"/><circle cx="593.96" cy="287.4" r="1.95"/><circle cx="597.79" cy="295.54" r="1.95"/><circle cx="601.08" cy="303.85" r="1.95"/><circle cx="604.36" cy="306.34" r="1.95"/><circle cx="571.51" cy="258.17" r="1.95"/><circle cx="574.8" cy="262.99" r="1.95"/><circle cx="579.18" cy="269.8" r="1.95"/><circle cx="582.46" cy="278.11" r="1.95"/><circle cx="585.75" cy="284.09" r="1.95"/><circle cx="589.03" cy="288.9" r="1.95"/><circle cx="592.32" cy="293.72" r="1.95"/><circle cx="595.6" cy="297.37" r="1.95"/><circle cx="598.89" cy="303.36" r="1.95"/><circle cx="603.27" cy="313.66" r="1.95"/><circle cx="572.61" cy="265.98" r="1.95"/><circle cx="576.99" cy="276.28" r="1.95"/><circle cx="581.37" cy="283.09" r="1.95"/><circle cx="584.65" cy="287.91" r="1.95"/><circle cx="587.94" cy="295.06" r="1.95"/><circle cx="591.22" cy="303.36" r="1.95"/><circle cx="594.51" cy="308.18" r="1.95"/><circle cx="597.79" cy="310.67" r="1.95"/><circle cx="602.17" cy="320.97" r="1.95"/><circle cx="576.99" cy="283.26" r="1.95"/><circle cx="581.37" cy="291.24" r="1.95"/><circle cx="585.75" cy="300.38" r="1.95"/><circle cx="590.13" cy="308.35" r="1.95"/><circle cx="594.51" cy="319.82" r="1.95"/><circle cx="598.89" cy="316.37" r="1.95"/><circle cx="602.17" cy="315.05" r="1.95"/><circle cx="574.25" cy="288.75" r="1.95"/><circle cx="580.27" cy="296.23" r="1.95"/><circle cx="588.48" cy="310.02" r="1.95"/><circle cx="566.59" cy="278.29" r="1.95"/><circle cx="568.78" cy="290.42" r="1.95"/><circle cx="572.06" cy="302.22" r="1.95"/><circle cx="572.06" cy="304.55" r="1.95"/><circle cx="578.63" cy="308.36" r="1.95"/><circle cx="580.82" cy="319.33" r="1.95"/><circle cx="582.46" cy="317.67" r="1.95"/><circle cx="584.65" cy="321.34" r="1.95"/><circle cx="586.84" cy="316.33" r="1.95"/><circle cx="589.03" cy="320.35" r="1.95"/><circle cx="590.67" cy="315.03" r="1.95"/><circle cx="592.32" cy="314.37" r="1.95"/><circle cx="587.39" cy="309.38" r="1.95"/><circle cx="587.94" cy="302.56" r="1.95"/><circle cx="592.32" cy="305.06" r="1.95"/><circle cx="594.51" cy="294.09" r="1.95"/><circle cx="599.43" cy="285.59" r="1.95"/><circle cx="580.27" cy="317.68" r="1.95"/><circle cx="582.46" cy="319.51" r="1.95"/><circle cx="596.15" cy="296.92" r="1.95"/><circle cx="568.78" cy="316.02" r="1.95"/><circle cx="590.67" cy="286.64" r="1.95"/><circle cx="577.21" cy="304.18" r="1.95"/><circle cx="585.75" cy="318.19" r="1.95"/><circle cx="590.13" cy="319.99" r="1.95"/><circle cx="616.11" cy="317.96" r="1.95"/><circle cx="632.53" cy="298.86" r="1.95"/><circle cx="623.77" cy="304.8" r="1.95"/><circle cx="632.21" cy="287.12" r="1.95"/><circle cx="636.59" cy="283.1" r="1.95"/><circle cx="640.96" cy="274.2" r="1.95"/><circle cx="643.48" cy="272.41" r="1.95"/><circle cx="637.13" cy="277.45" r="1.95"/><circle cx="638.23" cy="271.5" r="1.95"/><circle cx="607.57" cy="307.53" r="1.95"/><circle cx="605.38" cy="308.2" r="1.95"/><circle cx="602.64" cy="306.7" r="1.95"/><circle cx="613.04" cy="319.68" r="1.95"/><circle cx="612.5" cy="316.03" r="1.95"/><circle cx="607.57" cy="319.17" r="1.95"/><circle cx="602.09" cy="313.85" r="1.95"/><circle cx="605.38" cy="320.84" r="1.95"/><circle cx="611.95" cy="311.2" r="1.95"/><circle cx="618.52" cy="298.08" r="1.95"/><circle cx="621.8" cy="288.61" r="1.95"/><circle cx="615.23" cy="298.24" r="1.95"/><circle cx="628.37" cy="283.63" r="1.95"/><circle cx="628.92" cy="277.98" r="1.95"/><circle cx="633.85" cy="269" r="1.95"/><circle cx="636.59" cy="259.37" r="1.95"/><circle cx="639.32" cy="256.71" r="1.95"/><circle cx="640.96" cy="253.72" r="1.95"/><circle cx="623.99" cy="279.96" r="1.95"/><circle cx="626.18" cy="273.65" r="1.95"/><circle cx="620.71" cy="280.13" r="1.95"/><circle cx="631.66" cy="260.89" r="1.95"/><circle cx="636.59" cy="246.56" r="1.95"/><circle cx="643.7" cy="236.63" r="1.95"/><circle cx="608.12" cy="298.4" r="1.95"/><circle cx="613.04" cy="287.1" r="1.95"/><circle cx="611.95" cy="286.77" r="1.95"/><circle cx="609.76" cy="303.55" r="1.95"/><circle cx="603.19" cy="317.84" r="1.95"/><circle cx="601.55" cy="313.85" r="1.95"/><circle cx="664.51" cy="218.3" r="1.95"/><circle cx="615.78" cy="255.35" r="1.95"/><circle cx="601" cy="283.43" r="1.95"/></g>
<path d="M600.2 332.4V193.5" stroke="#BEBEBE" stroke-width="1.4" stroke-dasharray="5.3 5.53" stroke-dashoffset="0.6" fill="none"/>
<path d="M550.1 272.67C550.42 272.61 551.39 272.38 552.04 272.29C552.68 272.19 553.33 272.14 553.97 272.12C554.62 272.1 555.27 272.11 555.91 272.16C556.56 272.21 557.2 272.3 557.85 272.42C558.49 272.54 559.14 272.69 559.79 272.88C560.43 273.07 561.08 273.29 561.72 273.54C562.37 273.79 563.02 274.08 563.66 274.39C564.31 274.71 564.95 275.06 565.6 275.44C566.24 275.81 566.89 276.22 567.54 276.67C568.18 277.11 568.83 277.58 569.47 278.08C570.12 278.59 570.76 279.12 571.41 279.69C572.06 280.26 572.7 280.85 573.35 281.48C573.99 282.11 574.64 282.77 575.28 283.47C575.93 284.16 576.58 284.88 577.22 285.64C577.87 286.39 578.51 287.19 579.16 288C579.81 288.81 580.45 289.67 581.1 290.52C581.74 291.37 582.39 292.25 583.03 293.12C583.68 293.99 584.33 294.87 584.97 295.72C585.62 296.57 586.26 297.42 586.91 298.22C587.55 299.03 588.2 299.82 588.85 300.56C589.49 301.29 590.14 301.99 590.78 302.63C591.43 303.26 592.07 303.84 592.72 304.36C593.37 304.87 594.01 305.32 594.66 305.71C595.3 306.1 595.95 306.43 596.59 306.7C597.24 306.98 597.89 307.19 598.53 307.34C599.18 307.5 599.82 307.59 600.47 307.64C601.12 307.68 601.76 307.67 602.41 307.61C603.05 307.55 603.7 307.43 604.34 307.27C604.99 307.1 605.64 306.88 606.28 306.62C606.93 306.36 607.57 306.04 608.22 305.68C608.86 305.33 609.51 304.92 610.16 304.47C610.8 304.02 611.45 303.53 612.09 303C612.74 302.46 613.38 301.88 614.03 301.27C614.68 300.66 615.32 300 615.97 299.31C616.61 298.62 617.26 297.89 617.91 297.12C618.55 296.36 619.2 295.56 619.84 294.72C620.49 293.89 621.13 293.03 621.78 292.13C622.43 291.24 623.07 290.31 623.72 289.35C624.36 288.4 625.01 287.42 625.65 286.41C626.3 285.4 626.95 284.36 627.59 283.3C628.24 282.24 628.88 281.16 629.53 280.05C630.17 278.95 630.82 277.82 631.47 276.68C632.11 275.53 632.76 274.36 633.4 273.18C634.05 272 634.69 270.8 635.34 269.58C635.99 268.37 636.63 267.13 637.28 265.89C637.92 264.65 638.57 263.39 639.22 262.12C639.86 260.86 640.51 259.58 641.15 258.29C641.8 257.01 642.44 255.71 643.09 254.41C643.74 253.11 644.38 251.8 645.03 250.49C645.67 249.18 646.32 247.86 646.96 246.55C647.61 245.23 648.26 243.91 648.9 242.59C649.55 241.27 650.19 239.95 650.84 238.64C651.48 237.33 652.13 236.01 652.78 234.7C653.42 233.4 654.07 232.09 654.71 230.8C655.36 229.5 656.01 228.21 656.65 226.93C657.3 225.65 657.94 224.38 658.59 223.12C659.23 221.87 659.88 220.62 660.53 219.38C661.17 218.15 661.82 216.93 662.46 215.73C663.11 214.52 664.08 212.76 664.4 212.17" stroke="#000" stroke-width="1.6" fill="none" stroke-linejoin="round"/>
</g>
<rect x="526.3" y="193.5" width="150.8" height="138.9" fill="none" stroke="#222" stroke-width="1.15"/>
<rect x="526.3" y="7.6" width="150.8" height="43.9" fill="#D9D9D9" stroke="#222" stroke-width="1.15"/>
<text x="565.86" y="22.10" font-family='"Liberation Serif",serif' font-size="11.4" fill="#000" textLength="75.21" lengthAdjust="spacingAndGlyphs">Random Forest</text>
<text x="547.28" y="42.00" font-family='"Liberation Serif",serif' font-size="11.4" fill="#000" textLength="112.65" lengthAdjust="spacingAndGlyphs">(resistant vs. sensitive)</text>
<text x="525.93" y="346.80" font-family='"Liberation Sans",sans-serif' font-size="11.2" fill="#111" textLength="16.02" lengthAdjust="spacingAndGlyphs" stroke="#111" stroke-width="0.3">0.0</text>
<text x="560.66" y="346.80" font-family='"Liberation Sans",sans-serif' font-size="11.2" fill="#111" textLength="16.20" lengthAdjust="spacingAndGlyphs" stroke="#111" stroke-width="0.3">2.5</text>
<text x="595.65" y="346.80" font-family='"Liberation Sans",sans-serif' font-size="11.2" fill="#111" textLength="16.05" lengthAdjust="spacingAndGlyphs" stroke="#111" stroke-width="0.3">5.0</text>
<text x="630.41" y="346.80" font-family='"Liberation Sans",sans-serif' font-size="11.2" fill="#111" textLength="16.20" lengthAdjust="spacingAndGlyphs" stroke="#111" stroke-width="0.3">7.5</text>
<text x="662.08" y="346.80" font-family='"Liberation Sans",sans-serif' font-size="11.2" fill="#111" textLength="22.30" lengthAdjust="spacingAndGlyphs" stroke="#111" stroke-width="0.3">10.0</text>
<path d="M533.94 332.4v4.1 M568.82 332.4v4.1 M603.69 332.4v4.1 M638.57 332.4v4.1 M673.44 332.4v4.1" stroke="#222" stroke-width="1.15"/>
<rect x="51.15" y="416.5" width="150.8" height="129.5" fill="#fff"/>
<path d="M51.15 524.56H201.95 M51.15 494.69H201.95 M51.15 464.81H201.95 M51.15 434.94H201.95 M76.2 416.5V546 M111.07 416.5V546 M145.95 416.5V546 M180.82 416.5V546" stroke="#EBEBEB" stroke-width="0.55" fill="none"/>
<path d="M51.15 539.5H201.95 M51.15 509.62H201.95 M51.15 479.75H201.95 M51.15 449.88H201.95 M51.15 420H201.95 M58.76 416.5V546 M93.63 416.5V546 M128.51 416.5V546 M163.38 416.5V546 M198.26 416.5V546" stroke="#EBEBEB" stroke-width="1.1" fill="none"/>
<defs><clipPath id="cB01"><rect x="51.15" y="416.5" width="150.8" height="129.5"/></clipPath></defs>
<g clip-path="url(#cB01)">
<path d="M51.15 546.02L201.95 416.84" stroke="#BEBEBE" stroke-width="0.6" fill="none"/>
<g fill="#00BFFF"><circle cx="90.32" cy="471.97" r="1.95"/><circle cx="120.76" cy="469.23" r="1.95"/><circle cx="126.46" cy="470.33" r="1.95"/><circle cx="114.41" cy="477.45" r="1.95"/><circle cx="119.89" cy="476.9" r="1.95"/><circle cx="120.43" cy="477.45" r="1.95"/><circle cx="114.96" cy="481.28" r="1.95"/><circle cx="112.77" cy="484.02" r="1.95"/><circle cx="107.84" cy="483.47" r="1.95"/><circle cx="86.82" cy="484.34" r="1.95"/><circle cx="116.05" cy="481.28" r="1.95"/><circle cx="122" cy="469.6" r="1.95"/><circle cx="126.67" cy="470.18" r="1.95"/><circle cx="128.42" cy="468.78" r="1.95"/><circle cx="132.74" cy="465.74" r="1.95"/><circle cx="142.79" cy="466.45" r="1.95"/><circle cx="147.93" cy="469.6" r="1.95"/><circle cx="151.2" cy="470.18" r="1.95"/><circle cx="154.7" cy="471.35" r="1.95"/><circle cx="158.79" cy="468.43" r="1.95"/><circle cx="165.8" cy="467.61" r="1.95"/><circle cx="171.64" cy="467.61" r="1.95"/><circle cx="155.87" cy="473.69" r="1.95"/><circle cx="140.69" cy="478.94" r="1.95"/><circle cx="144.77" cy="480.93" r="1.95"/><circle cx="138.12" cy="483.26" r="1.95"/><circle cx="156.1" cy="477.77" r="1.95"/><circle cx="166.61" cy="480.11" r="1.95"/><circle cx="180.98" cy="487.93" r="1.95"/></g>
<g fill="#000080"><circle cx="92.73" cy="472.19" r="1.95"/><circle cx="125.58" cy="473.83" r="1.95"/><circle cx="125.5" cy="473.69" r="1.95"/></g>
<g fill="#FF8C00"><circle cx="63.5" cy="506.68" r="1.95"/><circle cx="66.45" cy="509.2" r="1.95"/><circle cx="73.02" cy="509.75" r="1.95"/><circle cx="78.83" cy="508.1" r="1.95"/><circle cx="81.34" cy="503.18" r="1.95"/><circle cx="84.85" cy="501.53" r="1.95"/><circle cx="88.13" cy="499.89" r="1.95"/><circle cx="88.68" cy="504.82" r="1.95"/><circle cx="91.42" cy="499.89" r="1.95"/><circle cx="101.82" cy="499.89" r="1.95"/><circle cx="103.46" cy="501.53" r="1.95"/><circle cx="106.2" cy="500.99" r="1.95"/><circle cx="108.39" cy="503.18" r="1.95"/><circle cx="112.77" cy="501.53" r="1.95"/><circle cx="114.96" cy="499.89" r="1.95"/><circle cx="117.48" cy="498.8" r="1.95"/><circle cx="115.51" cy="505.15" r="1.95"/><circle cx="119.01" cy="505.91" r="1.95"/><circle cx="124.05" cy="497.92" r="1.95"/><circle cx="86.49" cy="500.44" r="1.95"/><circle cx="124.1" cy="497.98" r="1.95"/></g>
<g fill="#8B0000"><circle cx="162.29" cy="505.8" r="1.95"/></g>
<path d="M51.15 475.1H201.95" stroke="#6699CC" stroke-width="1.25" stroke-dasharray="5.5 5.33" stroke-dashoffset="0.53" fill="none"/>
<path d="M51.15 502.7H201.95" stroke="#CC6677" stroke-width="1.25" stroke-dasharray="5.5 5.33" stroke-dashoffset="0.53" fill="none"/>
<path d="M62.9 505.1L180.6 467.8" stroke="#000" stroke-width="1.6" fill="none"/>
</g>
<rect x="51.15" y="416.5" width="150.8" height="129.5" fill="none" stroke="#222" stroke-width="1.15"/>
<rect x="51.15" y="558.5" width="150.8" height="138.9" fill="#fff"/>
<path d="M51.15 673.8H201.95 M51.15 648.4H201.95 M51.15 623H201.95 M51.15 597.6H201.95 M51.15 572.2H201.95 M76.2 558.5V697.4 M111.07 558.5V697.4 M145.95 558.5V697.4 M180.82 558.5V697.4" stroke="#EBEBEB" stroke-width="0.55" fill="none"/>
<path d="M51.15 686.5H201.95 M51.15 661.1H201.95 M51.15 635.7H201.95 M51.15 610.3H201.95 M51.15 584.9H201.95 M51.15 559.5H201.95 M58.76 558.5V697.4 M93.63 558.5V697.4 M128.51 558.5V697.4 M163.38 558.5V697.4 M198.26 558.5V697.4" stroke="#EBEBEB" stroke-width="1.1" fill="none"/>
<defs><clipPath id="cB02"><rect x="51.15" y="558.5" width="150.8" height="138.9"/></clipPath></defs>
<g clip-path="url(#cB02)">
<g fill="#00BFFF"><circle cx="90.32" cy="600.44" r="1.95"/><circle cx="120.76" cy="650.04" r="1.95"/><circle cx="126.46" cy="662.73" r="1.95"/><circle cx="114.41" cy="655.93" r="1.95"/><circle cx="119.89" cy="664.74" r="1.95"/><circle cx="120.43" cy="666.9" r="1.95"/><circle cx="114.96" cy="665.07" r="1.95"/><circle cx="112.77" cy="666.91" r="1.95"/><circle cx="107.84" cy="656.77" r="1.95"/><circle cx="86.82" cy="620.35" r="1.95"/><circle cx="116.05" cy="667.07" r="1.95"/><circle cx="122" cy="653.07" r="1.95"/><circle cx="126.67" cy="662.82" r="1.95"/><circle cx="128.42" cy="663.03" r="1.95"/><circle cx="132.74" cy="664.44" r="1.95"/><circle cx="142.79" cy="684.22" r="1.95"/><circle cx="147.93" cy="672.72" r="1.95"/><circle cx="151.2" cy="665.53" r="1.95"/><circle cx="154.7" cy="656.67" r="1.95"/><circle cx="158.79" cy="655.43" r="1.95"/><circle cx="165.8" cy="644.41" r="1.95"/><circle cx="171.64" cy="633.78" r="1.95"/><circle cx="155.87" cy="649.57" r="1.95"/><circle cx="140.69" cy="666.05" r="1.95"/><circle cx="144.77" cy="654.39" r="1.95"/><circle cx="138.12" cy="661.54" r="1.95"/><circle cx="156.1" cy="640.46" r="1.95"/><circle cx="166.61" cy="616.36" r="1.95"/><circle cx="180.98" cy="573.57" r="1.95"/></g>
<g fill="#000080"><circle cx="92.73" cy="605.29" r="1.95"/><circle cx="125.58" cy="668.59" r="1.95"/><circle cx="125.5" cy="668.14" r="1.95"/></g>
<g fill="#FF8C00"><circle cx="63.5" cy="625.37" r="1.95"/><circle cx="66.45" cy="636.1" r="1.95"/><circle cx="73.02" cy="649.23" r="1.95"/><circle cx="78.83" cy="656.3" r="1.95"/><circle cx="81.34" cy="650.42" r="1.95"/><circle cx="84.85" cy="653.3" r="1.95"/><circle cx="88.13" cy="655.79" r="1.95"/><circle cx="88.68" cy="667.26" r="1.95"/><circle cx="91.42" cy="661.77" r="1.95"/><circle cx="101.82" cy="680.71" r="1.95"/><circle cx="103.46" cy="685.8" r="1.95"/><circle cx="106.2" cy="681.98" r="1.95"/><circle cx="108.39" cy="673.34" r="1.95"/><circle cx="112.77" cy="668.86" r="1.95"/><circle cx="114.96" cy="668.36" r="1.95"/><circle cx="117.48" cy="666.1" r="1.95"/><circle cx="115.51" cy="656.19" r="1.95"/><circle cx="119.01" cy="648.19" r="1.95"/><circle cx="124.05" cy="656" r="1.95"/><circle cx="86.49" cy="653.97" r="1.95"/><circle cx="124.1" cy="655.78" r="1.95"/></g>
<g fill="#8B0000"><circle cx="162.29" cy="569.61" r="1.95"/></g>
<path d="M116.51 697.4V558.5" stroke="#BEBEBE" stroke-width="1.4" stroke-dasharray="5.3 5.53" stroke-dashoffset="0.6" fill="none"/>
<path d="M63.2 631.4C64.13 632.18 66.9 634.47 68.8 636.1C70.7 637.73 72.42 639.38 74.6 641.2C76.78 643.02 79.47 645.07 81.9 647C84.33 648.93 86.77 651.02 89.2 652.8C91.63 654.58 94.07 656.23 96.5 657.7C98.93 659.17 101.48 660.58 103.8 661.6C106.12 662.62 108.7 663.38 110.4 663.8C112.1 664.22 112.67 664.22 114 664.1C115.33 663.98 116.93 663.58 118.4 663.1C119.87 662.62 121.22 661.7 122.8 661.2C124.38 660.7 126.2 660.1 127.9 660.1C129.6 660.1 131.42 660.78 133 661.2C134.58 661.62 136.07 662.27 137.4 662.6C138.73 662.93 139.78 663.37 141 663.2C142.22 663.03 143.35 662.72 144.7 661.6C146.05 660.48 147.65 658.57 149.1 656.5C150.55 654.43 151.95 651.63 153.4 649.2C154.85 646.77 156.45 644.43 157.8 641.9C159.15 639.37 160.15 637.77 161.5 634C162.85 630.23 164.08 624.67 165.9 619.3C167.72 613.93 170.4 607.27 172.4 601.8C174.4 596.33 176.43 590.7 177.9 586.5C179.37 582.3 180.65 578.25 181.2 576.6" stroke="#000" stroke-width="1.6" fill="none" stroke-linejoin="round"/>
</g>
<rect x="51.15" y="558.5" width="150.8" height="138.9" fill="none" stroke="#222" stroke-width="1.15"/>
<rect x="51.15" y="372.6" width="150.8" height="43.9" fill="#D9D9D9" stroke="#222" stroke-width="1.15"/>
<text x="112.28" y="387.10" font-family='"Liberation Serif",serif' font-size="11.4" fill="#000" textLength="30.93" lengthAdjust="spacingAndGlyphs">HARF</text>
<text x="58.67" y="407.00" font-family='"Liberation Serif",serif' font-size="11.4" fill="#000" textLength="139.16" lengthAdjust="spacingAndGlyphs">(lung vs. haem. and lymph.)</text>
<text x="50.75" y="711.80" font-family='"Liberation Sans",sans-serif' font-size="11.2" fill="#111" textLength="16.02" lengthAdjust="spacingAndGlyphs" stroke="#111" stroke-width="0.3">0.0</text>
<text x="85.48" y="711.80" font-family='"Liberation Sans",sans-serif' font-size="11.2" fill="#111" textLength="16.20" lengthAdjust="spacingAndGlyphs" stroke="#111" stroke-width="0.3">2.5</text>
<text x="120.47" y="711.80" font-family='"Liberation Sans",sans-serif' font-size="11.2" fill="#111" textLength="16.05" lengthAdjust="spacingAndGlyphs" stroke="#111" stroke-width="0.3">5.0</text>
<text x="155.23" y="711.80" font-family='"Liberation Sans",sans-serif' font-size="11.2" fill="#111" textLength="16.20" lengthAdjust="spacingAndGlyphs" stroke="#111" stroke-width="0.3">7.5</text>
<text x="186.90" y="711.80" font-family='"Liberation Sans",sans-serif' font-size="11.2" fill="#111" textLength="22.30" lengthAdjust="spacingAndGlyphs" stroke="#111" stroke-width="0.3">10.0</text>
<path d="M58.76 697.4v4.1 M93.63 697.4v4.1 M128.51 697.4v4.1 M163.38 697.4v4.1 M198.26 697.4v4.1" stroke="#222" stroke-width="1.15"/>
<text x="28.52" y="543.35" font-family='"Liberation Sans",sans-serif' font-size="11.2" fill="#111" textLength="16.02" lengthAdjust="spacingAndGlyphs" stroke="#111" stroke-width="0.3">0.0</text>
<text x="28.37" y="513.48" font-family='"Liberation Sans",sans-serif' font-size="11.2" fill="#111" textLength="16.20" lengthAdjust="spacingAndGlyphs" stroke="#111" stroke-width="0.3">2.5</text>
<text x="28.49" y="483.60" font-family='"Liberation Sans",sans-serif' font-size="11.2" fill="#111" textLength="16.05" lengthAdjust="spacingAndGlyphs" stroke="#111" stroke-width="0.3">5.0</text>
<text x="28.37" y="453.73" font-family='"Liberation Sans",sans-serif' font-size="11.2" fill="#111" textLength="16.20" lengthAdjust="spacingAndGlyphs" stroke="#111" stroke-width="0.3">7.5</text>
<text x="22.24" y="423.85" font-family='"Liberation Sans",sans-serif' font-size="11.2" fill="#111" textLength="22.30" lengthAdjust="spacingAndGlyphs" stroke="#111" stroke-width="0.3">10.0</text>
<text x="38.30" y="690.35" font-family='"Liberation Sans",sans-serif' font-size="11.2" fill="#111" textLength="6.23" lengthAdjust="spacingAndGlyphs" stroke="#111" stroke-width="0.3">0</text>
<text x="38.42" y="664.95" font-family='"Liberation Sans",sans-serif' font-size="11.2" fill="#111" textLength="6.23" lengthAdjust="spacingAndGlyphs" stroke="#111" stroke-width="0.3">1</text>
<text x="38.42" y="639.55" font-family='"Liberation Sans",sans-serif' font-size="11.2" fill="#111" textLength="6.23" lengthAdjust="spacingAndGlyphs" stroke="#111" stroke-width="0.3">2</text>
<text x="38.36" y="614.15" font-family='"Liberation Sans",sans-serif' font-size="11.2" fill="#111" textLength="6.23" lengthAdjust="spacingAndGlyphs" stroke="#111" stroke-width="0.3">3</text>
<text x="38.19" y="588.75" font-family='"Liberation Sans",sans-serif' font-size="11.2" fill="#111" textLength="6.23" lengthAdjust="spacingAndGlyphs" stroke="#111" stroke-width="0.3">4</text>
<text x="38.33" y="563.35" font-family='"Liberation Sans",sans-serif' font-size="11.2" fill="#111" textLength="6.23" lengthAdjust="spacingAndGlyphs" stroke="#111" stroke-width="0.3">5</text>
<path d="M46.95 539.5h4.2 M46.95 509.62h4.2 M46.95 479.75h4.2 M46.95 449.88h4.2 M46.95 420h4.2 M46.95 686.5h4.2 M46.95 661.1h4.2 M46.95 635.7h4.2 M46.95 610.3h4.2 M46.95 584.9h4.2 M46.95 559.5h4.2" stroke="#222" stroke-width="1.15"/>
<rect x="209.55" y="416.5" width="150.8" height="129.5" fill="#fff"/>
<path d="M209.55 524.56H360.35 M209.55 494.69H360.35 M209.55 464.81H360.35 M209.55 434.94H360.35 M234.68 416.5V546 M269.55 416.5V546 M304.43 416.5V546 M339.3 416.5V546" stroke="#EBEBEB" stroke-width="0.55" fill="none"/>
<path d="M209.55 539.5H360.35 M209.55 509.62H360.35 M209.55 479.75H360.35 M209.55 449.88H360.35 M209.55 420H360.35 M217.24 416.5V546 M252.12 416.5V546 M286.99 416.5V546 M321.87 416.5V546 M356.74 416.5V546" stroke="#EBEBEB" stroke-width="1.1" fill="none"/>
<defs><clipPath id="cB11"><rect x="209.55" y="416.5" width="150.8" height="129.5"/></clipPath></defs>
<g clip-path="url(#cB11)">
<path d="M209.55 546.09L360.35 416.91" stroke="#BEBEBE" stroke-width="0.6" fill="none"/>
<g fill="#000080"><circle cx="248.94" cy="473.07" r="1.95"/><circle cx="244.34" cy="477.45" r="1.95"/><circle cx="240.18" cy="480.73" r="1.95"/><circle cx="248.72" cy="482.92" r="1.95"/><circle cx="244.78" cy="485.44" r="1.95"/><circle cx="236.02" cy="489.16" r="1.95"/><circle cx="243.25" cy="490.04" r="1.95"/><circle cx="242.37" cy="494.2" r="1.95"/><circle cx="245.66" cy="494.64" r="1.95"/><circle cx="235.8" cy="497.15" r="1.95"/><circle cx="232.52" cy="499.34" r="1.95"/><circle cx="237.99" cy="498.25" r="1.95"/><circle cx="240.18" cy="498.25" r="1.95"/><circle cx="237.99" cy="501.53" r="1.95"/><circle cx="247.63" cy="500.11" r="1.95"/><circle cx="248.94" cy="503.18" r="1.95"/></g>
<g fill="#FF8C00"><circle cx="234.16" cy="519.6" r="1.95"/></g>
<g fill="#00BFFF"><circle cx="260.99" cy="469.02" r="1.95"/><circle cx="253.32" cy="472.52" r="1.95"/><circle cx="256.61" cy="471.42" r="1.95"/><circle cx="258.8" cy="473.61" r="1.95"/><circle cx="263.18" cy="474.71" r="1.95"/><circle cx="266.46" cy="474.16" r="1.95"/><circle cx="269.75" cy="473.07" r="1.95"/><circle cx="273.03" cy="470.33" r="1.95"/><circle cx="276.32" cy="472.52" r="1.95"/><circle cx="280.7" cy="472.52" r="1.95"/><circle cx="285.08" cy="473.61" r="1.95"/><circle cx="288.36" cy="470.33" r="1.95"/><circle cx="254.42" cy="476.35" r="1.95"/><circle cx="260.99" cy="476.9" r="1.95"/><circle cx="265.37" cy="477.99" r="1.95"/><circle cx="268.65" cy="477.99" r="1.95"/><circle cx="273.03" cy="477.99" r="1.95"/><circle cx="277.41" cy="478.54" r="1.95"/><circle cx="281.79" cy="477.45" r="1.95"/><circle cx="286.17" cy="476.9" r="1.95"/><circle cx="289.46" cy="477.99" r="1.95"/><circle cx="254.96" cy="480.18" r="1.95"/><circle cx="259.89" cy="481.83" r="1.95"/><circle cx="264.27" cy="481.28" r="1.95"/><circle cx="267.56" cy="480.18" r="1.95"/><circle cx="274.13" cy="482.37" r="1.95"/><circle cx="278.51" cy="481.83" r="1.95"/><circle cx="282.89" cy="482.92" r="1.95"/><circle cx="287.27" cy="482.92" r="1.95"/><circle cx="260.99" cy="484.56" r="1.95"/><circle cx="271.39" cy="486.75" r="1.95"/><circle cx="277.41" cy="486.75" r="1.95"/><circle cx="281.79" cy="486.21" r="1.95"/><circle cx="287.27" cy="485.66" r="1.95"/><circle cx="249.49" cy="490.26" r="1.95"/><circle cx="257.15" cy="488.72" r="1.95"/><circle cx="251.13" cy="494.96" r="1.95"/><circle cx="254.96" cy="493.32" r="1.95"/><circle cx="254.96" cy="496.06" r="1.95"/><circle cx="262.08" cy="493.32" r="1.95"/><circle cx="265.37" cy="496.61" r="1.95"/><circle cx="269.75" cy="491.13" r="1.95"/><circle cx="271.94" cy="494.42" r="1.95"/><circle cx="274.67" cy="492.78" r="1.95"/><circle cx="276.32" cy="496.06" r="1.95"/><circle cx="278.51" cy="496.61" r="1.95"/><circle cx="282.01" cy="498.58" r="1.95"/><circle cx="262.08" cy="499.89" r="1.95"/><circle cx="259.89" cy="502.63" r="1.95"/><circle cx="251.68" cy="502.3" r="1.95"/><circle cx="266.46" cy="498.25" r="1.95"/><circle cx="269.75" cy="497.15" r="1.95"/><circle cx="274.13" cy="499.89" r="1.95"/><circle cx="268.1" cy="490.04" r="1.95"/><circle cx="299.02" cy="467.26" r="1.95"/><circle cx="315.44" cy="465.73" r="1.95"/><circle cx="306.68" cy="470.33" r="1.95"/><circle cx="314.78" cy="471.64" r="1.95"/><circle cx="319.49" cy="469.78" r="1.95"/><circle cx="323.87" cy="469.78" r="1.95"/><circle cx="326.39" cy="469.02" r="1.95"/><circle cx="320.04" cy="472.52" r="1.95"/><circle cx="321.13" cy="474.16" r="1.95"/><circle cx="290.47" cy="469.78" r="1.95"/><circle cx="288.28" cy="471.42" r="1.95"/><circle cx="286.09" cy="473.61" r="1.95"/><circle cx="295.95" cy="472.52" r="1.95"/><circle cx="295.4" cy="475.26" r="1.95"/><circle cx="289.93" cy="475.26" r="1.95"/><circle cx="286.09" cy="476.9" r="1.95"/><circle cx="289.38" cy="478.54" r="1.95"/><circle cx="293.76" cy="477.99" r="1.95"/><circle cx="298.14" cy="477.99" r="1.95"/><circle cx="301.42" cy="478.54" r="1.95"/><circle cx="304.71" cy="479.64" r="1.95"/><circle cx="307.99" cy="481.28" r="1.95"/><circle cx="311.28" cy="476.35" r="1.95"/><circle cx="312.37" cy="477.99" r="1.95"/><circle cx="316.75" cy="478.54" r="1.95"/><circle cx="320.04" cy="480.73" r="1.95"/><circle cx="323.32" cy="479.64" r="1.95"/><circle cx="306.9" cy="482.92" r="1.95"/><circle cx="303.61" cy="484.56" r="1.95"/><circle cx="314.02" cy="484.34" r="1.95"/><circle cx="319.49" cy="486.75" r="1.95"/><circle cx="326.39" cy="485.11" r="1.95"/><circle cx="292.12" cy="483.47" r="1.95"/><circle cx="291.02" cy="486.97" r="1.95"/><circle cx="295.4" cy="487.85" r="1.95"/><circle cx="298.69" cy="493.1" r="1.95"/><circle cx="285.55" cy="484.02" r="1.95"/><circle cx="347.41" cy="476.35" r="1.95"/><circle cx="298.14" cy="481.28" r="1.95"/><circle cx="310.73" cy="480.18" r="1.95"/></g>
<path d="M209.55 479.3H360.35" stroke="#6699CC" stroke-width="1.25" stroke-dasharray="5.5 5.33" stroke-dashoffset="0.53" fill="none"/>
<path d="M209.55 523.35H360.35" stroke="#CC6677" stroke-width="1.25" stroke-dasharray="5.5 5.33" stroke-dashoffset="0.53" fill="none"/>
<path d="M233.1 491.1L347.4 470.9" stroke="#000" stroke-width="1.6" fill="none"/>
</g>
<rect x="209.55" y="416.5" width="150.8" height="129.5" fill="none" stroke="#222" stroke-width="1.15"/>
<rect x="209.55" y="558.5" width="150.8" height="138.9" fill="#fff"/>
<path d="M209.55 673.8H360.35 M209.55 648.4H360.35 M209.55 623H360.35 M209.55 597.6H360.35 M209.55 572.2H360.35 M234.68 558.5V697.4 M269.55 558.5V697.4 M304.43 558.5V697.4 M339.3 558.5V697.4" stroke="#EBEBEB" stroke-width="0.55" fill="none"/>
<path d="M209.55 686.5H360.35 M209.55 661.1H360.35 M209.55 635.7H360.35 M209.55 610.3H360.35 M209.55 584.9H360.35 M209.55 559.5H360.35 M217.24 558.5V697.4 M252.12 558.5V697.4 M286.99 558.5V697.4 M321.87 558.5V697.4 M356.74 558.5V697.4" stroke="#EBEBEB" stroke-width="1.1" fill="none"/>
<defs><clipPath id="cB12"><rect x="209.55" y="558.5" width="150.8" height="138.9"/></clipPath></defs>
<g clip-path="url(#cB12)">
<g fill="#000080"><circle cx="248.94" cy="603.02" r="1.95"/><circle cx="244.34" cy="603.95" r="1.95"/><circle cx="240.18" cy="603.36" r="1.95"/><circle cx="248.72" cy="623.56" r="1.95"/><circle cx="244.78" cy="621.74" r="1.95"/><circle cx="236.02" cy="613.7" r="1.95"/><circle cx="243.25" cy="628.72" r="1.95"/><circle cx="242.37" cy="635.97" r="1.95"/><circle cx="245.66" cy="642.88" r="1.95"/><circle cx="235.8" cy="630.29" r="1.95"/><circle cx="232.52" cy="628.97" r="1.95"/><circle cx="237.99" cy="636.61" r="1.95"/><circle cx="240.18" cy="640.6" r="1.95"/><circle cx="237.99" cy="643.59" r="1.95"/><circle cx="247.63" cy="658.11" r="1.95"/><circle cx="248.94" cy="667.02" r="1.95"/></g>
<g fill="#FF8C00"><circle cx="234.16" cy="675.01" r="1.95"/></g>
<g fill="#00BFFF"><circle cx="260.99" cy="616.34" r="1.95"/><circle cx="253.32" cy="609.83" r="1.95"/><circle cx="256.61" cy="613.48" r="1.95"/><circle cx="258.8" cy="622.12" r="1.95"/><circle cx="263.18" cy="632.43" r="1.95"/><circle cx="266.46" cy="637.24" r="1.95"/><circle cx="269.75" cy="640.9" r="1.95"/><circle cx="273.03" cy="641.06" r="1.95"/><circle cx="276.32" cy="651.7" r="1.95"/><circle cx="280.7" cy="659.67" r="1.95"/><circle cx="285.08" cy="669.97" r="1.95"/><circle cx="288.36" cy="668.97" r="1.95"/><circle cx="254.42" cy="619.97" r="1.95"/><circle cx="260.99" cy="633.09" r="1.95"/><circle cx="265.37" cy="643.4" r="1.95"/><circle cx="268.65" cy="649.38" r="1.95"/><circle cx="273.03" cy="657.35" r="1.95"/><circle cx="277.41" cy="666.49" r="1.95"/><circle cx="281.79" cy="672.14" r="1.95"/><circle cx="286.17" cy="678.95" r="1.95"/><circle cx="289.46" cy="685.74" r="1.95"/><circle cx="254.96" cy="629.11" r="1.95"/><circle cx="259.89" cy="641.57" r="1.95"/><circle cx="264.27" cy="648.38" r="1.95"/><circle cx="267.56" cy="652.04" r="1.95"/><circle cx="274.13" cy="668.65" r="1.95"/><circle cx="278.51" cy="675.46" r="1.95"/><circle cx="282.89" cy="685.77" r="1.95"/><circle cx="287.27" cy="679.26" r="1.95"/><circle cx="260.99" cy="649.38" r="1.95"/><circle cx="271.39" cy="672.98" r="1.95"/><circle cx="277.41" cy="683.94" r="1.95"/><circle cx="281.79" cy="682.25" r="1.95"/><circle cx="287.27" cy="673.44" r="1.95"/><circle cx="249.49" cy="640.55" r="1.95"/><circle cx="257.15" cy="651.25" r="1.95"/><circle cx="251.13" cy="653.55" r="1.95"/><circle cx="254.96" cy="657.04" r="1.95"/><circle cx="254.96" cy="662.86" r="1.95"/><circle cx="262.08" cy="670" r="1.95"/><circle cx="265.37" cy="682.96" r="1.95"/><circle cx="269.75" cy="679.3" r="1.95"/><circle cx="271.94" cy="682.73" r="1.95"/><circle cx="274.67" cy="681.24" r="1.95"/><circle cx="276.32" cy="671.27" r="1.95"/><circle cx="278.51" cy="666.12" r="1.95"/><circle cx="282.01" cy="655.55" r="1.95"/><circle cx="262.08" cy="683.96" r="1.95"/><circle cx="259.89" cy="685.79" r="1.95"/><circle cx="251.68" cy="670.14" r="1.95"/><circle cx="266.46" cy="684.56" r="1.95"/><circle cx="269.75" cy="680.9" r="1.95"/><circle cx="274.13" cy="667.11" r="1.95"/><circle cx="268.1" cy="673.98" r="1.95"/><circle cx="299.02" cy="681.85" r="1.95"/><circle cx="315.44" cy="664.5" r="1.95"/><circle cx="306.68" cy="670.67" r="1.95"/><circle cx="314.78" cy="653.13" r="1.95"/><circle cx="319.49" cy="648.51" r="1.95"/><circle cx="323.87" cy="640.54" r="1.95"/><circle cx="326.39" cy="637.58" r="1.95"/><circle cx="320.04" cy="641.7" r="1.95"/><circle cx="321.13" cy="636.21" r="1.95"/><circle cx="290.47" cy="671.66" r="1.95"/><circle cx="288.28" cy="671.16" r="1.95"/><circle cx="286.09" cy="671.83" r="1.95"/><circle cx="295.95" cy="685.56" r="1.95"/><circle cx="295.4" cy="680.74" r="1.95"/><circle cx="289.93" cy="682.3" r="1.95"/><circle cx="286.09" cy="678.81" r="1.95"/><circle cx="289.38" cy="684.72" r="1.95"/><circle cx="293.76" cy="677.91" r="1.95"/><circle cx="298.14" cy="669.93" r="1.95"/><circle cx="301.42" cy="662.79" r="1.95"/><circle cx="304.71" cy="654.48" r="1.95"/><circle cx="307.99" cy="645.01" r="1.95"/><circle cx="311.28" cy="649.5" r="1.95"/><circle cx="312.37" cy="644.02" r="1.95"/><circle cx="316.75" cy="634.88" r="1.95"/><circle cx="320.04" cy="624.24" r="1.95"/><circle cx="323.32" cy="620.59" r="1.95"/><circle cx="306.9" cy="643.51" r="1.95"/><circle cx="303.61" cy="646" r="1.95"/><circle cx="314.02" cy="627.53" r="1.95"/><circle cx="319.49" cy="612.44" r="1.95"/><circle cx="326.39" cy="603.37" r="1.95"/><circle cx="292.12" cy="669.26" r="1.95"/><circle cx="291.02" cy="663.81" r="1.95"/><circle cx="295.4" cy="653.97" r="1.95"/><circle cx="298.69" cy="636.82" r="1.95"/><circle cx="285.55" cy="680.06" r="1.95"/><circle cx="347.41" cy="583.71" r="1.95"/><circle cx="298.14" cy="662.95" r="1.95"/><circle cx="310.73" cy="642.35" r="1.95"/><circle cx="254.37" cy="613.28" r="1.95"/><circle cx="256.02" cy="614.37" r="1.95"/><circle cx="255.47" cy="619.84" r="1.95"/><circle cx="256.02" cy="622.58" r="1.95"/><circle cx="260.39" cy="625.31" r="1.95"/><circle cx="260.94" cy="628.59" r="1.95"/><circle cx="260.94" cy="632.97" r="1.95"/><circle cx="263.12" cy="633.52" r="1.95"/><circle cx="264.22" cy="636.8" r="1.95"/><circle cx="266.41" cy="635.7" r="1.95"/><circle cx="262.03" cy="639.53" r="1.95"/><circle cx="259.84" cy="642.81" r="1.95"/><circle cx="263.12" cy="642.81" r="1.95"/><circle cx="264.22" cy="645" r="1.95"/><circle cx="269.14" cy="644.45" r="1.95"/><circle cx="273.52" cy="642.81" r="1.95"/><circle cx="266.41" cy="650.47" r="1.95"/><circle cx="267.5" cy="653.75" r="1.95"/><circle cx="271.87" cy="651.56" r="1.95"/><circle cx="272.97" cy="655.94" r="1.95"/><circle cx="272.42" cy="658.12" r="1.95"/><circle cx="277.34" cy="654.3" r="1.95"/><circle cx="263.12" cy="657.03" r="1.95"/><circle cx="256.56" cy="651.56" r="1.95"/><circle cx="254.92" cy="657.58" r="1.95"/><circle cx="276.25" cy="661.41" r="1.95"/><circle cx="277.89" cy="659.76" r="1.95"/><circle cx="279.53" cy="660.86" r="1.95"/><circle cx="277.34" cy="663.59" r="1.95"/><circle cx="275.16" cy="665.78" r="1.95"/><circle cx="273.52" cy="669.06" r="1.95"/><circle cx="276.25" cy="671.25" r="1.95"/><circle cx="278.44" cy="673.44" r="1.95"/><circle cx="281.72" cy="675.62" r="1.95"/><circle cx="283.91" cy="677.81" r="1.95"/><circle cx="286.09" cy="680" r="1.95"/><circle cx="282.81" cy="681.09" r="1.95"/><circle cx="280.62" cy="680" r="1.95"/><circle cx="285" cy="671.25" r="1.95"/><circle cx="289.37" cy="674.53" r="1.95"/><circle cx="290.47" cy="676.72" r="1.95"/><circle cx="288.28" cy="681.09" r="1.95"/><circle cx="291.56" cy="680" r="1.95"/><circle cx="295.94" cy="677.81" r="1.95"/><circle cx="295.94" cy="682.19" r="1.95"/><circle cx="298.67" cy="682.73" r="1.95"/><circle cx="259.84" cy="685.47" r="1.95"/><circle cx="263.12" cy="685.47" r="1.95"/><circle cx="266.41" cy="684.92" r="1.95"/><circle cx="269.69" cy="685.47" r="1.95"/><circle cx="272.97" cy="685.47" r="1.95"/><circle cx="276.25" cy="685.47" r="1.95"/><circle cx="279.53" cy="685.47" r="1.95"/><circle cx="285" cy="685.47" r="1.95"/><circle cx="269.69" cy="680" r="1.95"/><circle cx="271.87" cy="678.91" r="1.95"/><circle cx="275.16" cy="680" r="1.95"/><circle cx="268.59" cy="681.09" r="1.95"/><circle cx="270.78" cy="682.19" r="1.95"/><circle cx="271.33" cy="673.44" r="1.95"/><circle cx="263.12" cy="675.62" r="1.95"/><circle cx="291.56" cy="661.41" r="1.95"/><circle cx="292.66" cy="666.87" r="1.95"/><circle cx="294.84" cy="670.16" r="1.95"/><circle cx="298.12" cy="662.5" r="1.95"/><circle cx="300.31" cy="659.22" r="1.95"/><circle cx="302.5" cy="657.03" r="1.95"/><circle cx="304.69" cy="652.66" r="1.95"/><circle cx="306.87" cy="648.28" r="1.95"/><circle cx="304.69" cy="645" r="1.95"/><circle cx="306.87" cy="642.81" r="1.95"/><circle cx="309.06" cy="638.44" r="1.95"/><circle cx="311.25" cy="642.81" r="1.95"/><circle cx="312.34" cy="646.09" r="1.95"/><circle cx="303.59" cy="641.72" r="1.95"/><circle cx="294.84" cy="651.56" r="1.95"/><circle cx="295.94" cy="651.56" r="1.95"/></g>
<path d="M283.5 697.4V558.5" stroke="#BEBEBE" stroke-width="1.4" stroke-dasharray="5.3 5.53" stroke-dashoffset="0.6" fill="none"/>
<path d="M233.6 632.89C233.92 632.9 234.89 632.89 235.53 632.92C236.17 632.95 236.82 633 237.46 633.07C238.1 633.14 238.75 633.23 239.39 633.35C240.04 633.46 240.68 633.6 241.32 633.76C241.97 633.92 242.61 634.1 243.25 634.32C243.9 634.53 244.54 634.77 245.18 635.03C245.83 635.3 246.47 635.59 247.11 635.91C247.76 636.23 248.4 636.59 249.04 636.97C249.69 637.35 250.33 637.76 250.97 638.21C251.62 638.65 252.26 639.13 252.91 639.64C253.55 640.16 254.19 640.7 254.84 641.28C255.48 641.86 256.12 642.48 256.77 643.13C257.41 643.79 258.05 644.48 258.7 645.21C259.34 645.94 259.98 646.71 260.63 647.52C261.27 648.32 261.91 649.18 262.56 650.06C263.2 650.95 263.84 651.89 264.49 652.85C265.13 653.8 265.78 654.8 266.42 655.78C267.06 656.77 267.71 657.78 268.35 658.76C268.99 659.75 269.64 660.74 270.28 661.69C270.92 662.64 271.57 663.59 272.21 664.47C272.85 665.35 273.5 666.2 274.14 666.98C274.78 667.76 275.43 668.49 276.07 669.13C276.71 669.78 277.36 670.35 278 670.85C278.65 671.35 279.29 671.78 279.93 672.14C280.58 672.49 281.22 672.77 281.86 672.98C282.51 673.19 283.15 673.33 283.79 673.4C284.44 673.47 285.08 673.46 285.72 673.39C286.37 673.32 287.01 673.17 287.65 672.96C288.3 672.75 288.94 672.46 289.58 672.11C290.23 671.76 290.87 671.34 291.52 670.85C292.16 670.37 292.8 669.81 293.45 669.2C294.09 668.6 294.73 667.93 295.38 667.22C296.02 666.51 296.66 665.74 297.31 664.95C297.95 664.15 298.59 663.31 299.24 662.45C299.88 661.59 300.52 660.69 301.17 659.78C301.81 658.87 302.45 657.93 303.1 656.99C303.74 656.05 304.39 655.1 305.03 654.15C305.67 653.2 306.32 652.24 306.96 651.29C307.6 650.35 308.25 649.41 308.89 648.46C309.53 647.52 310.18 646.58 310.82 645.64C311.46 644.69 312.11 643.75 312.75 642.8C313.39 641.84 314.04 640.89 314.68 639.92C315.32 638.95 315.97 637.97 316.61 636.98C317.26 635.98 317.9 634.98 318.54 633.96C319.19 632.94 319.83 631.9 320.47 630.84C321.12 629.78 321.76 628.7 322.4 627.6C323.05 626.5 323.69 625.38 324.33 624.23C324.98 623.09 325.62 621.92 326.26 620.73C326.91 619.54 327.55 618.33 328.19 617.09C328.84 615.85 329.48 614.59 330.13 613.3C330.77 612.01 331.41 610.7 332.06 609.35C332.7 608.01 333.34 606.64 333.99 605.25C334.63 603.86 335.27 602.43 335.92 601.01C336.56 599.58 337.2 598.12 337.85 596.68C338.49 595.24 339.13 593.78 339.78 592.35C340.42 590.92 341.06 589.49 341.71 588.09C342.35 586.69 343 585.31 343.64 583.98C344.28 582.64 344.93 581.33 345.57 580.08C346.21 578.84 347.18 577.09 347.5 576.49" stroke="#000" stroke-width="1.6" fill="none" stroke-linejoin="round"/>
</g>
<rect x="209.55" y="558.5" width="150.8" height="138.9" fill="none" stroke="#222" stroke-width="1.15"/>
<rect x="209.55" y="372.6" width="150.8" height="43.9" fill="#D9D9D9" stroke="#222" stroke-width="1.15"/>
<text x="265.18" y="387.10" font-family='"Liberation Serif",serif' font-size="11.4" fill="#000" textLength="30.82" lengthAdjust="spacingAndGlyphs">HARF</text>
<text x="297.12" y="388.80" font-family='"Liberation Serif",serif' font-size="7.8" fill="#000" textLength="10.51" lengthAdjust="spacingAndGlyphs">SR</text>
<text x="229.88" y="407.00" font-family='"Liberation Serif",serif' font-size="11.4" fill="#000" textLength="112.75" lengthAdjust="spacingAndGlyphs">(resistant vs. sensitive)</text>
<text x="209.23" y="711.80" font-family='"Liberation Sans",sans-serif' font-size="11.2" fill="#111" textLength="16.02" lengthAdjust="spacingAndGlyphs" stroke="#111" stroke-width="0.3">0.0</text>
<text x="243.96" y="711.80" font-family='"Liberation Sans",sans-serif' font-size="11.2" fill="#111" textLength="16.20" lengthAdjust="spacingAndGlyphs" stroke="#111" stroke-width="0.3">2.5</text>
<text x="278.95" y="711.80" font-family='"Liberation Sans",sans-serif' font-size="11.2" fill="#111" textLength="16.05" lengthAdjust="spacingAndGlyphs" stroke="#111" stroke-width="0.3">5.0</text>
<text x="313.71" y="711.80" font-family='"Liberation Sans",sans-serif' font-size="11.2" fill="#111" textLength="16.20" lengthAdjust="spacingAndGlyphs" stroke="#111" stroke-width="0.3">7.5</text>
<text x="345.38" y="711.80" font-family='"Liberation Sans",sans-serif' font-size="11.2" fill="#111" textLength="22.30" lengthAdjust="spacingAndGlyphs" stroke="#111" stroke-width="0.3">10.0</text>
<path d="M217.24 697.4v4.1 M252.12 697.4v4.1 M286.99 697.4v4.1 M321.87 697.4v4.1 M356.74 697.4v4.1" stroke="#222" stroke-width="1.15"/>
<rect x="367.9" y="416.5" width="150.8" height="129.5" fill="#fff"/>
<path d="M367.9 524.56H518.7 M367.9 494.69H518.7 M367.9 464.81H518.7 M367.9 434.94H518.7 M393.03 416.5V546 M427.9 416.5V546 M462.78 416.5V546 M497.65 416.5V546" stroke="#EBEBEB" stroke-width="0.55" fill="none"/>
<path d="M367.9 539.5H518.7 M367.9 509.62H518.7 M367.9 479.75H518.7 M367.9 449.88H518.7 M367.9 420H518.7 M375.59 416.5V546 M410.46 416.5V546 M445.34 416.5V546 M480.21 416.5V546 M515.09 416.5V546" stroke="#EBEBEB" stroke-width="1.1" fill="none"/>
<defs><clipPath id="cB21"><rect x="367.9" y="416.5" width="150.8" height="129.5"/></clipPath></defs>
<g clip-path="url(#cB21)">
<path d="M367.9 546.09L518.7 416.91" stroke="#BEBEBE" stroke-width="0.6" fill="none"/>
<g fill="#000080"><circle cx="406.94" cy="474.93" r="1.95"/><circle cx="402.56" cy="476.68" r="1.95"/><circle cx="398.4" cy="478.87" r="1.95"/><circle cx="402.89" cy="487.63" r="1.95"/><circle cx="394.02" cy="491.35" r="1.95"/><circle cx="406.72" cy="493.32" r="1.95"/></g>
<g fill="#00BFFF"><circle cx="419.21" cy="469.78" r="1.95"/><circle cx="431.58" cy="470.55" r="1.95"/><circle cx="412.42" cy="474.16" r="1.95"/><circle cx="414.61" cy="474.71" r="1.95"/><circle cx="417.89" cy="476.9" r="1.95"/><circle cx="421.18" cy="476.9" r="1.95"/><circle cx="424.46" cy="475.8" r="1.95"/><circle cx="427.75" cy="475.26" r="1.95"/><circle cx="431.03" cy="477.99" r="1.95"/><circle cx="434.32" cy="476.9" r="1.95"/><circle cx="438.7" cy="474.16" r="1.95"/><circle cx="441.98" cy="475.8" r="1.95"/><circle cx="445.27" cy="474.71" r="1.95"/><circle cx="447.46" cy="472.52" r="1.95"/><circle cx="413.51" cy="481.28" r="1.95"/><circle cx="418.99" cy="480.18" r="1.95"/><circle cx="422.82" cy="481.28" r="1.95"/><circle cx="426.65" cy="481.83" r="1.95"/><circle cx="429.94" cy="480.73" r="1.95"/><circle cx="433.77" cy="481.28" r="1.95"/><circle cx="437.6" cy="480.73" r="1.95"/><circle cx="440.89" cy="479.64" r="1.95"/><circle cx="444.17" cy="481.28" r="1.95"/><circle cx="447.46" cy="481.28" r="1.95"/><circle cx="417.89" cy="485.66" r="1.95"/><circle cx="422.82" cy="484.56" r="1.95"/><circle cx="432.13" cy="484.56" r="1.95"/><circle cx="436.51" cy="485.66" r="1.95"/><circle cx="439.79" cy="484.56" r="1.95"/><circle cx="444.17" cy="484.56" r="1.95"/><circle cx="422.27" cy="490.59" r="1.95"/><circle cx="426.65" cy="493.87" r="1.95"/><circle cx="431.03" cy="493.87" r="1.95"/><circle cx="436.51" cy="492.78" r="1.95"/><circle cx="441.1" cy="490.26" r="1.95"/><circle cx="415.15" cy="494.2" r="1.95"/><circle cx="407.82" cy="496.06" r="1.95"/><circle cx="428.62" cy="498.25" r="1.95"/><circle cx="425.56" cy="487.85" r="1.95"/><circle cx="434.32" cy="487.85" r="1.95"/><circle cx="448.47" cy="470.11" r="1.95"/><circle cx="457.02" cy="469.78" r="1.95"/><circle cx="473.44" cy="468.14" r="1.95"/><circle cx="477.49" cy="470.33" r="1.95"/><circle cx="481.32" cy="471.42" r="1.95"/><circle cx="484.39" cy="472.52" r="1.95"/><circle cx="478.04" cy="473.61" r="1.95"/><circle cx="445.19" cy="472.52" r="1.95"/><circle cx="447.38" cy="474.71" r="1.95"/><circle cx="453.95" cy="474.71" r="1.95"/><circle cx="453.4" cy="477.45" r="1.95"/><circle cx="443.55" cy="476.9" r="1.95"/><circle cx="446.28" cy="480.18" r="1.95"/><circle cx="449.57" cy="481.83" r="1.95"/><circle cx="453.95" cy="482.37" r="1.95"/><circle cx="458.33" cy="480.73" r="1.95"/><circle cx="464.35" cy="476.9" r="1.95"/><circle cx="469.28" cy="475.26" r="1.95"/><circle cx="473.11" cy="474.16" r="1.95"/><circle cx="459.42" cy="484.02" r="1.95"/><circle cx="462.71" cy="485.66" r="1.95"/><circle cx="465.99" cy="484.02" r="1.95"/><circle cx="469.28" cy="482.37" r="1.95"/><circle cx="474.75" cy="479.64" r="1.95"/><circle cx="480.23" cy="480.73" r="1.95"/><circle cx="475.85" cy="484.02" r="1.95"/><circle cx="472.56" cy="486.21" r="1.95"/><circle cx="481.87" cy="484.56" r="1.95"/><circle cx="456.14" cy="487.63" r="1.95"/><circle cx="450.66" cy="487.3" r="1.95"/><circle cx="462.71" cy="490.59" r="1.95"/><circle cx="484.61" cy="490.04" r="1.95"/><circle cx="449.57" cy="493.32" r="1.95"/><circle cx="453.4" cy="493.1" r="1.95"/><circle cx="477.49" cy="493.54" r="1.95"/><circle cx="505.41" cy="476.68" r="1.95"/><circle cx="443.55" cy="484.02" r="1.95"/><circle cx="467.09" cy="480.18" r="1.95"/></g>
<g fill="#FF8C00"><circle cx="395.99" cy="513.91" r="1.95"/><circle cx="405.85" cy="516.54" r="1.95"/><circle cx="392.71" cy="519.05" r="1.95"/><circle cx="395.45" cy="519.6" r="1.95"/><circle cx="398.73" cy="518.51" r="1.95"/><circle cx="401.47" cy="519.05" r="1.95"/><circle cx="403.66" cy="520.48" r="1.95"/><circle cx="391.07" cy="522.01" r="1.95"/><circle cx="394.9" cy="521.57" r="1.95"/><circle cx="392.16" cy="526.72" r="1.95"/><circle cx="406.94" cy="523.76" r="1.95"/><circle cx="400.37" cy="520.7" r="1.95"/></g>
<g fill="#8B0000"><circle cx="409.68" cy="510.84" r="1.95"/><circle cx="413.29" cy="514.67" r="1.95"/><circle cx="409.68" cy="519.05" r="1.95"/><circle cx="413.29" cy="520.7" r="1.95"/><circle cx="418.11" cy="523.1" r="1.95"/><circle cx="421.18" cy="520.91" r="1.95"/><circle cx="420.08" cy="515.77" r="1.95"/><circle cx="422.27" cy="513.58" r="1.95"/><circle cx="424.46" cy="511.94" r="1.95"/><circle cx="427.75" cy="512.48" r="1.95"/><circle cx="426.65" cy="514.67" r="1.95"/><circle cx="429.94" cy="517.96" r="1.95"/><circle cx="428.84" cy="520.48" r="1.95"/><circle cx="432.13" cy="520.7" r="1.95"/><circle cx="435.41" cy="519.6" r="1.95"/><circle cx="433.22" cy="511.39" r="1.95"/><circle cx="436.51" cy="511.72" r="1.95"/><circle cx="440.34" cy="514.13" r="1.95"/><circle cx="433.77" cy="521.79" r="1.95"/><circle cx="456.69" cy="521.57" r="1.95"/></g>
<path d="M367.9 479.3H518.7" stroke="#6699CC" stroke-width="1.25" stroke-dasharray="5.5 5.33" stroke-dashoffset="0.53" fill="none"/>
<path d="M367.9 523.35H518.7" stroke="#CC6677" stroke-width="1.25" stroke-dasharray="5.5 5.33" stroke-dashoffset="0.53" fill="none"/>
<path d="M391.4 503.7L505.4 468.5" stroke="#000" stroke-width="1.6" fill="none"/>
</g>
<rect x="367.9" y="416.5" width="150.8" height="129.5" fill="none" stroke="#222" stroke-width="1.15"/>
<rect x="367.9" y="558.5" width="150.8" height="138.9" fill="#fff"/>
<path d="M367.9 673.8H518.7 M367.9 648.4H518.7 M367.9 623H518.7 M367.9 597.6H518.7 M367.9 572.2H518.7 M393.03 558.5V697.4 M427.9 558.5V697.4 M462.78 558.5V697.4 M497.65 558.5V697.4" stroke="#EBEBEB" stroke-width="0.55" fill="none"/>
<path d="M367.9 686.5H518.7 M367.9 661.1H518.7 M367.9 635.7H518.7 M367.9 610.3H518.7 M367.9 584.9H518.7 M367.9 559.5H518.7 M375.59 558.5V697.4 M410.46 558.5V697.4 M445.34 558.5V697.4 M480.21 558.5V697.4 M515.09 558.5V697.4" stroke="#EBEBEB" stroke-width="1.1" fill="none"/>
<defs><clipPath id="cB22"><rect x="367.9" y="558.5" width="150.8" height="138.9"/></clipPath></defs>
<g clip-path="url(#cB22)">
<g fill="#000080"><circle cx="406.94" cy="606.34" r="1.95"/><circle cx="402.56" cy="602.09" r="1.95"/><circle cx="398.4" cy="599.16" r="1.95"/><circle cx="402.89" cy="625.96" r="1.95"/><circle cx="394.02" cy="617.72" r="1.95"/><circle cx="406.72" cy="645.04" r="1.95"/></g>
<g fill="#00BFFF"><circle cx="419.21" cy="617.73" r="1.95"/><circle cx="431.58" cy="641.88" r="1.95"/><circle cx="412.42" cy="614.68" r="1.95"/><circle cx="414.61" cy="619.83" r="1.95"/><circle cx="417.89" cy="630.46" r="1.95"/><circle cx="421.18" cy="636.44" r="1.95"/><circle cx="424.46" cy="640.1" r="1.95"/><circle cx="427.75" cy="644.91" r="1.95"/><circle cx="431.03" cy="656.71" r="1.95"/><circle cx="434.32" cy="660.37" r="1.95"/><circle cx="438.7" cy="662.52" r="1.95"/><circle cx="441.98" cy="672" r="1.95"/><circle cx="445.27" cy="675.65" r="1.95"/><circle cx="447.46" cy="674.98" r="1.95"/><circle cx="413.51" cy="631.8" r="1.95"/><circle cx="418.99" cy="639.44" r="1.95"/><circle cx="422.82" cy="648.74" r="1.95"/><circle cx="426.65" cy="656.88" r="1.95"/><circle cx="429.94" cy="660.54" r="1.95"/><circle cx="433.77" cy="668.68" r="1.95"/><circle cx="437.6" cy="674.49" r="1.95"/><circle cx="440.89" cy="678.15" r="1.95"/><circle cx="444.17" cy="685.38" r="1.95"/><circle cx="447.46" cy="679.4" r="1.95"/><circle cx="417.89" cy="649.08" r="1.95"/><circle cx="422.82" cy="655.73" r="1.95"/><circle cx="432.13" cy="672.67" r="1.95"/><circle cx="436.51" cy="682.97" r="1.95"/><circle cx="439.79" cy="686.37" r="1.95"/><circle cx="444.17" cy="678.4" r="1.95"/><circle cx="422.27" cy="667.53" r="1.95"/><circle cx="426.65" cy="682.48" r="1.95"/><circle cx="431.03" cy="682.54" r="1.95"/><circle cx="436.51" cy="674.9" r="1.95"/><circle cx="441.1" cy="671.88" r="1.95"/><circle cx="415.15" cy="662.25" r="1.95"/><circle cx="407.82" cy="652.85" r="1.95"/><circle cx="428.62" cy="677.62" r="1.95"/><circle cx="425.56" cy="667.69" r="1.95"/><circle cx="434.32" cy="683.64" r="1.95"/><circle cx="448.47" cy="671.72" r="1.95"/><circle cx="457.02" cy="686.43" r="1.95"/><circle cx="473.44" cy="660.02" r="1.95"/><circle cx="477.49" cy="647.99" r="1.95"/><circle cx="481.32" cy="638.68" r="1.95"/><circle cx="484.39" cy="630.77" r="1.95"/><circle cx="478.04" cy="640.01" r="1.95"/><circle cx="445.19" cy="670.86" r="1.95"/><circle cx="447.38" cy="679.5" r="1.95"/><circle cx="453.95" cy="681.54" r="1.95"/><circle cx="453.4" cy="676.72" r="1.95"/><circle cx="443.55" cy="677.18" r="1.95"/><circle cx="446.28" cy="683.86" r="1.95"/><circle cx="449.57" cy="674.39" r="1.95"/><circle cx="453.95" cy="665.25" r="1.95"/><circle cx="458.33" cy="660.76" r="1.95"/><circle cx="464.35" cy="657.95" r="1.95"/><circle cx="469.28" cy="652.47" r="1.95"/><circle cx="473.11" cy="647.81" r="1.95"/><circle cx="459.42" cy="651.79" r="1.95"/><circle cx="462.71" cy="642.32" r="1.95"/><circle cx="465.99" cy="639.83" r="1.95"/><circle cx="469.28" cy="637.34" r="1.95"/><circle cx="474.75" cy="633.19" r="1.95"/><circle cx="480.23" cy="620.89" r="1.95"/><circle cx="475.85" cy="621.88" r="1.95"/><circle cx="472.56" cy="623.21" r="1.95"/><circle cx="481.87" cy="609.76" r="1.95"/><circle cx="456.14" cy="650.09" r="1.95"/><circle cx="450.66" cy="660.76" r="1.95"/><circle cx="462.71" cy="631.84" r="1.95"/><circle cx="484.61" cy="593.14" r="1.95"/><circle cx="449.57" cy="649.95" r="1.95"/><circle cx="453.4" cy="643.44" r="1.95"/><circle cx="477.49" cy="598.65" r="1.95"/><circle cx="505.41" cy="583.65" r="1.95"/><circle cx="443.55" cy="680.7" r="1.95"/><circle cx="467.09" cy="645.98" r="1.95"/><circle cx="412.73" cy="615.47" r="1.95"/><circle cx="414.92" cy="620.94" r="1.95"/><circle cx="413.83" cy="626.41" r="1.95"/><circle cx="413.83" cy="629.14" r="1.95"/><circle cx="413.28" cy="633.52" r="1.95"/><circle cx="418.75" cy="634.61" r="1.95"/><circle cx="420.39" cy="637.34" r="1.95"/><circle cx="422.03" cy="641.72" r="1.95"/><circle cx="424.22" cy="641.72" r="1.95"/><circle cx="417.66" cy="651.01" r="1.95"/><circle cx="420.94" cy="655.94" r="1.95"/><circle cx="423.12" cy="658.12" r="1.95"/><circle cx="424.22" cy="659.76" r="1.95"/><circle cx="429.69" cy="651.56" r="1.95"/><circle cx="430.23" cy="658.12" r="1.95"/><circle cx="431.87" cy="642.81" r="1.95"/><circle cx="427.5" cy="647.73" r="1.95"/><circle cx="414.92" cy="663.59" r="1.95"/><circle cx="422.03" cy="669.61" r="1.95"/><circle cx="420.94" cy="672.89" r="1.95"/><circle cx="434.61" cy="665.23" r="1.95"/><circle cx="438.44" cy="663.59" r="1.95"/><circle cx="441.17" cy="669.06" r="1.95"/><circle cx="431.87" cy="672.89" r="1.95"/><circle cx="428.05" cy="675.62" r="1.95"/><circle cx="430.78" cy="678.91" r="1.95"/><circle cx="436.25" cy="672.89" r="1.95"/><circle cx="438.44" cy="677.81" r="1.95"/><circle cx="440.62" cy="680" r="1.95"/><circle cx="442.81" cy="675.62" r="1.95"/><circle cx="446.09" cy="674.53" r="1.95"/><circle cx="448.28" cy="673.44" r="1.95"/><circle cx="453.75" cy="672.34" r="1.95"/><circle cx="454.3" cy="678.91" r="1.95"/><circle cx="448.28" cy="682.19" r="1.95"/><circle cx="435.16" cy="682.19" r="1.95"/><circle cx="427.5" cy="685.47" r="1.95"/><circle cx="429.69" cy="684.92" r="1.95"/><circle cx="442.81" cy="685.47" r="1.95"/><circle cx="457.03" cy="683.83" r="1.95"/><circle cx="449.37" cy="648.28" r="1.95"/><circle cx="453.75" cy="651.56" r="1.95"/><circle cx="456.48" cy="647.19" r="1.95"/><circle cx="452.66" cy="641.72" r="1.95"/><circle cx="461.41" cy="640.62" r="1.95"/><circle cx="463.59" cy="646.09" r="1.95"/><circle cx="462.5" cy="648.28" r="1.95"/><circle cx="469.06" cy="649.37" r="1.95"/><circle cx="464.69" cy="654.84" r="1.95"/><circle cx="459.22" cy="658.12" r="1.95"/><circle cx="455.94" cy="657.03" r="1.95"/><circle cx="450.47" cy="659.76" r="1.95"/><circle cx="473.44" cy="657.03" r="1.95"/><circle cx="477.81" cy="645" r="1.95"/><circle cx="473.44" cy="645.55" r="1.95"/><circle cx="466.87" cy="634.06" r="1.95"/><circle cx="469.61" cy="636.8" r="1.95"/><circle cx="462.5" cy="629.14" r="1.95"/><circle cx="472.34" cy="621.48" r="1.95"/><circle cx="475.62" cy="620.94" r="1.95"/><circle cx="477.81" cy="617.66" r="1.95"/></g>
<g fill="#FF8C00"><circle cx="395.99" cy="669.25" r="1.95"/><circle cx="405.85" cy="680.22" r="1.95"/><circle cx="392.71" cy="674.21" r="1.95"/><circle cx="395.45" cy="680.36" r="1.95"/><circle cx="398.73" cy="684.01" r="1.95"/><circle cx="401.47" cy="682.84" r="1.95"/><circle cx="403.66" cy="675.83" r="1.95"/><circle cx="391.07" cy="677.5" r="1.95"/><circle cx="394.9" cy="683.55" r="1.95"/><circle cx="392.16" cy="683.5" r="1.95"/><circle cx="406.94" cy="662.87" r="1.95"/><circle cx="400.37" cy="681.34" r="1.95"/></g>
<g fill="#8B0000"><circle cx="409.68" cy="685.34" r="1.95"/><circle cx="413.29" cy="670.62" r="1.95"/><circle cx="409.68" cy="667.89" r="1.95"/><circle cx="413.29" cy="657.82" r="1.95"/><circle cx="418.11" cy="643.93" r="1.95"/><circle cx="421.18" cy="643" r="1.95"/><circle cx="420.08" cy="655.93" r="1.95"/><circle cx="422.27" cy="656.6" r="1.95"/><circle cx="424.46" cy="656.1" r="1.95"/><circle cx="427.75" cy="648.96" r="1.95"/><circle cx="426.65" cy="646.3" r="1.95"/><circle cx="429.94" cy="633.33" r="1.95"/><circle cx="428.84" cy="629.97" r="1.95"/><circle cx="432.13" cy="623.53" r="1.95"/><circle cx="435.41" cy="619.87" r="1.95"/><circle cx="433.22" cy="641.32" r="1.95"/><circle cx="436.51" cy="634.64" r="1.95"/><circle cx="440.34" cy="622.54" r="1.95"/><circle cx="433.77" cy="618.21" r="1.95"/><circle cx="456.69" cy="576.95" r="1.95"/></g>
<path d="M441.85 697.4V558.5" stroke="#BEBEBE" stroke-width="1.4" stroke-dasharray="5.3 5.53" stroke-dashoffset="0.6" fill="none"/>
<path d="M391 672.2C391.32 671.44 392.29 669.08 392.94 667.64C393.59 666.19 394.23 664.82 394.88 663.52C395.53 662.22 396.18 661 396.82 659.85C397.47 658.7 398.12 657.62 398.76 656.61C399.41 655.61 400.06 654.67 400.7 653.8C401.35 652.94 402 652.14 402.64 651.41C403.29 650.68 403.94 650.02 404.58 649.43C405.23 648.83 405.88 648.31 406.53 647.85C407.17 647.39 407.82 646.99 408.47 646.66C409.11 646.33 409.76 646.06 410.41 645.85C411.05 645.65 411.7 645.51 412.35 645.42C412.99 645.34 413.64 645.32 414.29 645.36C414.94 645.4 415.58 645.5 416.23 645.66C416.88 645.82 417.52 646.03 418.17 646.31C418.82 646.58 419.46 646.91 420.11 647.3C420.76 647.68 421.4 648.13 422.05 648.62C422.7 649.12 423.34 649.68 423.99 650.27C424.64 650.86 425.29 651.51 425.93 652.18C426.58 652.84 427.23 653.55 427.87 654.26C428.52 654.96 429.17 655.7 429.81 656.42C430.46 657.14 431.11 657.87 431.75 658.57C432.4 659.28 433.05 659.97 433.69 660.63C434.34 661.29 434.99 661.92 435.64 662.51C436.28 663.09 436.93 663.65 437.58 664.14C438.22 664.64 438.87 665.1 439.52 665.5C440.16 665.9 440.81 666.25 441.46 666.52C442.1 666.8 442.75 667.02 443.4 667.17C444.05 667.31 444.69 667.39 445.34 667.38C445.99 667.38 446.63 667.29 447.28 667.13C447.93 666.97 448.57 666.73 449.22 666.42C449.87 666.12 450.51 665.74 451.16 665.31C451.81 664.87 452.45 664.36 453.1 663.81C453.75 663.25 454.4 662.64 455.04 661.98C455.69 661.31 456.34 660.6 456.98 659.84C457.63 659.09 458.28 658.28 458.92 657.45C459.57 656.61 460.22 655.74 460.86 654.83C461.51 653.93 462.16 652.99 462.81 652.03C463.45 651.08 464.1 650.09 464.75 649.09C465.39 648.09 466.04 647.07 466.69 646.03C467.33 645 467.98 643.95 468.63 642.89C469.27 641.82 469.92 640.74 470.57 639.65C471.21 638.55 471.86 637.44 472.51 636.32C473.16 635.19 473.8 634.05 474.45 632.9C475.1 631.75 475.74 630.58 476.39 629.39C477.04 628.21 477.68 627.01 478.33 625.8C478.98 624.59 479.62 623.37 480.27 622.13C480.92 620.89 481.56 619.64 482.21 618.38C482.86 617.13 483.51 615.86 484.15 614.59C484.8 613.31 485.45 612.03 486.09 610.75C486.74 609.46 487.39 608.17 488.03 606.89C488.68 605.6 489.33 604.31 489.97 603.02C490.62 601.73 491.27 600.44 491.92 599.16C492.56 597.88 493.21 596.59 493.86 595.32C494.5 594.05 495.15 592.78 495.8 591.53C496.44 590.27 497.09 589.02 497.74 587.79C498.38 586.55 499.03 585.33 499.68 584.12C500.32 582.91 500.97 581.72 501.62 580.54C502.27 579.37 502.91 578.2 503.56 577.07C504.21 575.93 505.18 574.27 505.5 573.71" stroke="#000" stroke-width="1.6" fill="none" stroke-linejoin="round"/>
</g>
<rect x="367.9" y="558.5" width="150.8" height="138.9" fill="none" stroke="#222" stroke-width="1.15"/>
<rect x="367.9" y="372.6" width="150.8" height="43.9" fill="#D9D9D9" stroke="#222" stroke-width="1.15"/>
<text x="409.99" y="387.10" font-family='"Liberation Serif",serif' font-size="11.4" fill="#000" textLength="67.94" lengthAdjust="spacingAndGlyphs">SAURON-RF</text>
<text x="387.88" y="407.00" font-family='"Liberation Serif",serif' font-size="11.4" fill="#000" textLength="112.75" lengthAdjust="spacingAndGlyphs">(resistant vs. sensitive)</text>
<text x="367.58" y="711.80" font-family='"Liberation Sans",sans-serif' font-size="11.2" fill="#111" textLength="16.02" lengthAdjust="spacingAndGlyphs" stroke="#111" stroke-width="0.3">0.0</text>
<text x="402.31" y="711.80" font-family='"Liberation Sans",sans-serif' font-size="11.2" fill="#111" textLength="16.20" lengthAdjust="spacingAndGlyphs" stroke="#111" stroke-width="0.3">2.5</text>
<text x="437.30" y="711.80" font-family='"Liberation Sans",sans-serif' font-size="11.2" fill="#111" textLength="16.05" lengthAdjust="spacingAndGlyphs" stroke="#111" stroke-width="0.3">5.0</text>
<text x="472.06" y="711.80" font-family='"Liberation Sans",sans-serif' font-size="11.2" fill="#111" textLength="16.20" lengthAdjust="spacingAndGlyphs" stroke="#111" stroke-width="0.3">7.5</text>
<text x="503.73" y="711.80" font-family='"Liberation Sans",sans-serif' font-size="11.2" fill="#111" textLength="22.30" lengthAdjust="spacingAndGlyphs" stroke="#111" stroke-width="0.3">10.0</text>
<path d="M375.59 697.4v4.1 M410.46 697.4v4.1 M445.34 697.4v4.1 M480.21 697.4v4.1 M515.09 697.4v4.1" stroke="#222" stroke-width="1.15"/>
<text transform="translate(16.70 173.22) rotate(-90)" font-family='"Liberation Serif",serif' font-size="14.8" fill="#000" textLength="113.77" lengthAdjust="spacingAndGlyphs">Predicted ln(IC50)</text>
<text transform="translate(16.70 339.15) rotate(-90)" font-family='"Liberation Serif",serif' font-size="14.8" fill="#000" textLength="153.07" lengthAdjust="spacingAndGlyphs">Absolute prediction error</text>
<text transform="translate(16.70 538.22) rotate(-90)" font-family='"Liberation Serif",serif' font-size="14.8" fill="#000" textLength="113.77" lengthAdjust="spacingAndGlyphs">Predicted ln(IC50)</text>
<text transform="translate(16.70 704.15) rotate(-90)" font-family='"Liberation Serif",serif' font-size="14.8" fill="#000" textLength="153.07" lengthAdjust="spacingAndGlyphs">Absolute prediction error</text>
<text x="315.95" y="362.80" font-family='"Liberation Serif",serif' font-size="14.8" fill="#000" textLength="96.19" lengthAdjust="spacingAndGlyphs">Actual ln(IC50)</text>
<text x="236.55" y="727.10" font-family='"Liberation Serif",serif' font-size="14.8" fill="#000" textLength="96.09" lengthAdjust="spacingAndGlyphs">Actual ln(IC50)</text>
<text x="6.25" y="18.80" font-family='"Liberation Sans",sans-serif' font-size="18" font-weight="bold" fill="#000" textLength="13.04" lengthAdjust="spacingAndGlyphs">A</text>
<text x="6.03" y="383.80" font-family='"Liberation Sans",sans-serif' font-size="18" font-weight="bold" fill="#000" textLength="13.62" lengthAdjust="spacingAndGlyphs">B</text>
<text x="569.49" y="401.10" font-family='"Liberation Serif",serif' font-size="14.8" fill="#000" textLength="58.13" lengthAdjust="spacingAndGlyphs">Legend A</text>
<circle cx="580.5" cy="420.2" r="1.95" fill="#CC6677"/>
<text x="598.22" y="424.00" font-family='"Liberation Serif",serif' font-size="11.6" fill="#000" textLength="41.59" lengthAdjust="spacingAndGlyphs">sensitive</text>
<circle cx="580.5" cy="442.2" r="1.95" fill="#6699CC"/>
<text x="598.15" y="445.70" font-family='"Liberation Serif",serif' font-size="11.6" fill="#000" textLength="41.51" lengthAdjust="spacingAndGlyphs">resistant</text>
<text x="575.70" y="505.80" font-family='"Liberation Serif",serif' font-size="14.8" fill="#000" textLength="57.51" lengthAdjust="spacingAndGlyphs">Legend B</text>
<circle cx="586.7" cy="524.7" r="1.95" fill="#FF8C00"/>
<text x="604.97" y="529.20" font-family='"Liberation Serif",serif' font-size="11.6" fill="#000" textLength="15.35" lengthAdjust="spacingAndGlyphs">TP</text>
<circle cx="586.7" cy="546.9" r="1.95" fill="#8B0000"/>
<text x="604.84" y="551.00" font-family='"Liberation Serif",serif' font-size="11.6" fill="#000" textLength="14.69" lengthAdjust="spacingAndGlyphs">FP</text>
<circle cx="586.7" cy="568.7" r="1.95" fill="#00BFFF"/>
<text x="604.99" y="572.60" font-family='"Liberation Serif",serif' font-size="11.6" fill="#000" textLength="15.99" lengthAdjust="spacingAndGlyphs">TN</text>
<circle cx="586.7" cy="590.4" r="1.95" fill="#000080"/>
<text x="604.87" y="594.70" font-family='"Liberation Serif",serif' font-size="11.6" fill="#000" textLength="15.20" lengthAdjust="spacingAndGlyphs">FN</text>
</svg></body></html>
